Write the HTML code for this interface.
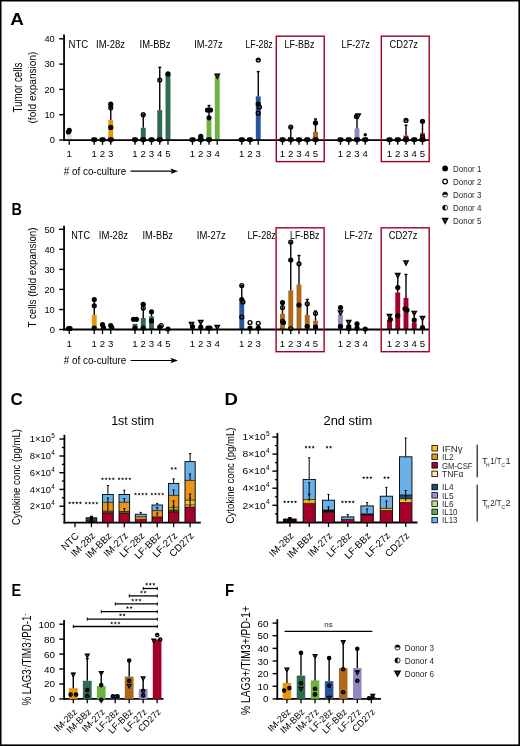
<!DOCTYPE html>
<html><head><meta charset="utf-8"><style>
html,body{margin:0;padding:0;background:#fff;}
svg{display:block;will-change:transform;font-family:"Liberation Sans", sans-serif;}

</style></head><body>
<svg width="520" height="746" viewBox="0 0 520 746">
<rect width="520" height="746" fill="#fff"/>
<rect x="0" y="0" width="520" height="1.5" fill="#000"/>
<rect x="0" y="0" width="1.5" height="746" fill="#000"/>
<rect x="518.4" y="0" width="1.6" height="746" fill="#000"/>
<rect x="0" y="744.4" width="520" height="1.6" fill="#000"/>
<text x="10.30" y="24.60" font-size="17" textLength="13.60" lengthAdjust="spacingAndGlyphs" font-weight="bold" fill="#000">A</text>
<text x="11.40" y="215.20" font-size="17" textLength="10.40" lengthAdjust="spacingAndGlyphs" font-weight="bold" fill="#000">B</text>
<text x="10.60" y="405.10" font-size="17" font-weight="bold" fill="#000">C</text>
<text x="224.50" y="405.00" font-size="17" textLength="13.40" lengthAdjust="spacingAndGlyphs" font-weight="bold" fill="#000">D</text>
<text x="11.40" y="596.00" font-size="17" textLength="9.60" lengthAdjust="spacingAndGlyphs" font-weight="bold" fill="#000">E</text>
<text x="224.90" y="596.00" font-size="17" textLength="9.10" lengthAdjust="spacingAndGlyphs" font-weight="bold" fill="#000">F</text>
<rect x="66.80" y="135.00" width="4.90" height="5.20" fill="#e2e2e2"/>
<circle cx="69.25" cy="130.40" r="2.6" fill="#000"/>
<circle cx="68.45" cy="132.00" r="2.6" fill="#000"/>
<circle cx="93.35" cy="139.70" r="2.40" fill="#000"/>
<circle cx="95.15" cy="139.70" r="2.40" fill="#000"/>
<path d="M91.85,140.00 L96.65,140.00 L94.25,143.20 Z" fill="#000"/>
<circle cx="101.60" cy="139.70" r="2.40" fill="#000"/>
<circle cx="103.40" cy="139.70" r="2.40" fill="#000"/>
<path d="M100.10,140.00 L104.90,140.00 L102.50,143.20 Z" fill="#000"/>
<rect x="108.30" y="120.10" width="4.90" height="20.10" fill="#ea950e"/>
<line x1="110.75" y1="120.10" x2="110.75" y2="104.00" stroke="#000" stroke-width="1.4"/>
<line x1="109.25" y1="104.00" x2="112.25" y2="104.00" stroke="#000" stroke-width="1.4"/>
<circle cx="110.75" cy="104.20" r="2.6" fill="#000"/>
<circle cx="110.75" cy="107.80" r="1.90" fill="none" stroke="#000" stroke-width="1.4"/>
<path d="M108.85,108.15 A1.90,1.90 0 0 1 112.65,108.15 Z" fill="#000"/>
<circle cx="110.75" cy="127.40" r="2.6" fill="#000"/>
<circle cx="109.85" cy="139.70" r="2.40" fill="#000"/>
<circle cx="111.65" cy="139.70" r="2.40" fill="#000"/>
<path d="M108.35,140.00 L113.15,140.00 L110.75,143.20 Z" fill="#000"/>
<circle cx="134.10" cy="139.70" r="2.40" fill="#000"/>
<circle cx="135.90" cy="139.70" r="2.40" fill="#000"/>
<path d="M132.60,140.00 L137.40,140.00 L135.00,143.20 Z" fill="#000"/>
<rect x="140.80" y="127.80" width="4.90" height="12.40" fill="#2f6b4f"/>
<line x1="143.25" y1="127.80" x2="143.25" y2="114.70" stroke="#000" stroke-width="1.4"/>
<line x1="141.75" y1="114.70" x2="144.75" y2="114.70" stroke="#000" stroke-width="1.4"/>
<circle cx="143.25" cy="114.70" r="1.90" fill="none" stroke="#000" stroke-width="1.4"/>
<circle cx="142.35" cy="139.70" r="2.40" fill="#000"/>
<circle cx="144.15" cy="139.70" r="2.40" fill="#000"/>
<path d="M140.85,140.00 L145.65,140.00 L143.25,143.20 Z" fill="#000"/>
<circle cx="150.60" cy="139.70" r="2.40" fill="#000"/>
<circle cx="152.40" cy="139.70" r="2.40" fill="#000"/>
<path d="M149.10,140.00 L153.90,140.00 L151.50,143.20 Z" fill="#000"/>
<rect x="157.30" y="110.10" width="4.90" height="30.10" fill="#2f6b4f"/>
<line x1="159.75" y1="110.10" x2="159.75" y2="67.40" stroke="#000" stroke-width="1.4"/>
<line x1="158.25" y1="67.40" x2="161.25" y2="67.40" stroke="#000" stroke-width="1.4"/>
<circle cx="159.75" cy="80.10" r="1.90" fill="none" stroke="#000" stroke-width="1.4"/>
<circle cx="158.85" cy="139.70" r="2.40" fill="#000"/>
<circle cx="160.65" cy="139.70" r="2.40" fill="#000"/>
<path d="M157.35,140.00 L162.15,140.00 L159.75,143.20 Z" fill="#000"/>
<rect x="165.55" y="73.90" width="4.90" height="66.30" fill="#2f6b4f"/>
<circle cx="168.00" cy="73.90" r="2.6" fill="#000"/>
<circle cx="191.60" cy="139.70" r="2.40" fill="#000"/>
<circle cx="193.40" cy="139.70" r="2.40" fill="#000"/>
<path d="M190.10,140.00 L194.90,140.00 L192.50,143.20 Z" fill="#000"/>
<circle cx="200.75" cy="136.30" r="2.6" fill="#000"/>
<circle cx="199.85" cy="139.70" r="2.40" fill="#000"/>
<circle cx="201.65" cy="139.70" r="2.40" fill="#000"/>
<path d="M198.35,140.00 L203.15,140.00 L200.75,143.20 Z" fill="#000"/>
<rect x="206.55" y="120.10" width="4.90" height="20.10" fill="#6cb142"/>
<line x1="209.00" y1="120.10" x2="209.00" y2="105.50" stroke="#000" stroke-width="1.4"/>
<line x1="207.50" y1="105.50" x2="210.50" y2="105.50" stroke="#000" stroke-width="1.4"/>
<circle cx="207.50" cy="110.10" r="2.6" fill="#000"/>
<circle cx="210.50" cy="110.10" r="2.6" fill="#000"/>
<circle cx="209.00" cy="117.80" r="2.6" fill="#000"/>
<circle cx="208.10" cy="139.70" r="2.40" fill="#000"/>
<circle cx="209.90" cy="139.70" r="2.40" fill="#000"/>
<path d="M206.60,140.00 L211.40,140.00 L209.00,143.20 Z" fill="#000"/>
<rect x="214.80" y="76.20" width="4.90" height="64.00" fill="#6cb142"/>
<path d="M213.95,73.56 L220.55,73.56 L217.25,79.67 Z" fill="#000"/>
<circle cx="217.25" cy="75.70" r="0.66" fill="#777"/>
<circle cx="240.85" cy="139.70" r="2.40" fill="#000"/>
<circle cx="242.65" cy="139.70" r="2.40" fill="#000"/>
<path d="M239.35,140.00 L244.15,140.00 L241.75,143.20 Z" fill="#000"/>
<circle cx="249.10" cy="139.70" r="2.40" fill="#000"/>
<circle cx="250.90" cy="139.70" r="2.40" fill="#000"/>
<path d="M247.60,140.00 L252.40,140.00 L250.00,143.20 Z" fill="#000"/>
<rect x="255.80" y="96.30" width="4.90" height="43.90" fill="#2a549c"/>
<line x1="258.25" y1="96.30" x2="258.25" y2="71.60" stroke="#000" stroke-width="1.4"/>
<line x1="256.75" y1="71.60" x2="259.75" y2="71.60" stroke="#000" stroke-width="1.4"/>
<circle cx="258.25" cy="60.00" r="1.90" fill="none" stroke="#000" stroke-width="1.4"/>
<path d="M256.35,60.35 A1.90,1.90 0 0 1 260.15,60.35 Z" fill="#000"/>
<circle cx="258.25" cy="104.00" r="2.6" fill="#000"/>
<circle cx="259.45" cy="107.00" r="1.90" fill="none" stroke="#000" stroke-width="1.4"/>
<circle cx="258.25" cy="113.20" r="1.90" fill="none" stroke="#000" stroke-width="1.4"/>
<circle cx="281.60" cy="139.70" r="2.40" fill="#000"/>
<circle cx="283.40" cy="139.70" r="2.40" fill="#000"/>
<path d="M280.10,140.00 L284.90,140.00 L282.50,143.20 Z" fill="#000"/>
<rect x="288.30" y="137.00" width="4.90" height="3.20" fill="#ad6a1c"/>
<line x1="290.75" y1="137.00" x2="290.75" y2="127.00" stroke="#000" stroke-width="1.4"/>
<line x1="289.25" y1="127.00" x2="292.25" y2="127.00" stroke="#000" stroke-width="1.4"/>
<circle cx="290.75" cy="127.00" r="1.90" fill="none" stroke="#000" stroke-width="1.4"/>
<circle cx="289.85" cy="139.70" r="2.40" fill="#000"/>
<circle cx="291.65" cy="139.70" r="2.40" fill="#000"/>
<path d="M288.35,140.00 L293.15,140.00 L290.75,143.20 Z" fill="#000"/>
<circle cx="298.10" cy="139.70" r="2.40" fill="#000"/>
<circle cx="299.90" cy="139.70" r="2.40" fill="#000"/>
<path d="M296.60,140.00 L301.40,140.00 L299.00,143.20 Z" fill="#000"/>
<circle cx="306.35" cy="139.70" r="2.40" fill="#000"/>
<circle cx="308.15" cy="139.70" r="2.40" fill="#000"/>
<path d="M304.85,140.00 L309.65,140.00 L307.25,143.20 Z" fill="#000"/>
<rect x="313.05" y="131.70" width="4.90" height="8.50" fill="#ad6a1c"/>
<line x1="315.50" y1="131.70" x2="315.50" y2="119.00" stroke="#000" stroke-width="1.4"/>
<line x1="314.00" y1="119.00" x2="317.00" y2="119.00" stroke="#000" stroke-width="1.4"/>
<circle cx="315.50" cy="122.90" r="2.6" fill="#000"/>
<circle cx="314.60" cy="139.70" r="2.40" fill="#000"/>
<circle cx="316.40" cy="139.70" r="2.40" fill="#000"/>
<path d="M313.10,140.00 L317.90,140.00 L315.50,143.20 Z" fill="#000"/>
<circle cx="339.60" cy="139.70" r="2.40" fill="#000"/>
<circle cx="341.40" cy="139.70" r="2.40" fill="#000"/>
<path d="M338.10,140.00 L342.90,140.00 L340.50,143.20 Z" fill="#000"/>
<circle cx="347.85" cy="139.70" r="2.40" fill="#000"/>
<circle cx="349.65" cy="139.70" r="2.40" fill="#000"/>
<path d="M346.35,140.00 L351.15,140.00 L348.75,143.20 Z" fill="#000"/>
<rect x="354.55" y="128.40" width="4.90" height="11.80" fill="#8f88c5"/>
<line x1="357.00" y1="128.40" x2="357.00" y2="117.00" stroke="#000" stroke-width="1.4"/>
<line x1="355.50" y1="117.00" x2="358.50" y2="117.00" stroke="#000" stroke-width="1.4"/>
<circle cx="356.40" cy="116.60" r="1.90" fill="none" stroke="#000" stroke-width="1.4"/>
<path d="M354.50,116.95 A1.90,1.90 0 0 1 358.30,116.95 Z" fill="#000"/>
<path d="M354.90,113.36 L361.50,113.36 L358.20,119.47 Z" fill="#000"/>
<circle cx="358.20" cy="115.50" r="0.66" fill="#777"/>
<circle cx="356.10" cy="139.70" r="2.40" fill="#000"/>
<circle cx="357.90" cy="139.70" r="2.40" fill="#000"/>
<path d="M354.60,140.00 L359.40,140.00 L357.00,143.20 Z" fill="#000"/>
<rect x="362.80" y="137.60" width="4.90" height="2.60" fill="#8f88c5"/>
<circle cx="365.25" cy="134.70" r="1.7" fill="#000"/>
<circle cx="364.35" cy="139.70" r="2.40" fill="#000"/>
<circle cx="366.15" cy="139.70" r="2.40" fill="#000"/>
<path d="M362.85,140.00 L367.65,140.00 L365.25,143.20 Z" fill="#000"/>
<circle cx="388.60" cy="139.70" r="2.40" fill="#000"/>
<circle cx="390.40" cy="139.70" r="2.40" fill="#000"/>
<path d="M387.10,140.00 L391.90,140.00 L389.50,143.20 Z" fill="#000"/>
<circle cx="396.85" cy="139.70" r="2.40" fill="#000"/>
<circle cx="398.65" cy="139.70" r="2.40" fill="#000"/>
<path d="M395.35,140.00 L400.15,140.00 L397.75,143.20 Z" fill="#000"/>
<rect x="403.55" y="135.60" width="4.90" height="4.60" fill="#a3002c"/>
<line x1="406.00" y1="135.60" x2="406.00" y2="125.20" stroke="#000" stroke-width="1.4"/>
<line x1="404.50" y1="125.20" x2="407.50" y2="125.20" stroke="#000" stroke-width="1.4"/>
<circle cx="406.00" cy="120.40" r="1.90" fill="none" stroke="#000" stroke-width="1.4"/>
<path d="M404.10,120.75 A1.90,1.90 0 0 1 407.90,120.75 Z" fill="#000"/>
<circle cx="405.10" cy="139.70" r="2.40" fill="#000"/>
<circle cx="406.90" cy="139.70" r="2.40" fill="#000"/>
<path d="M403.60,140.00 L408.40,140.00 L406.00,143.20 Z" fill="#000"/>
<circle cx="413.35" cy="139.70" r="2.40" fill="#000"/>
<circle cx="415.15" cy="139.70" r="2.40" fill="#000"/>
<path d="M411.85,140.00 L416.65,140.00 L414.25,143.20 Z" fill="#000"/>
<rect x="420.05" y="133.20" width="4.90" height="7.00" fill="#a3002c"/>
<line x1="422.50" y1="133.20" x2="422.50" y2="121.30" stroke="#000" stroke-width="1.4"/>
<line x1="421.00" y1="121.30" x2="424.00" y2="121.30" stroke="#000" stroke-width="1.4"/>
<circle cx="422.50" cy="121.30" r="2.6" fill="#000"/>
<circle cx="422.50" cy="137.00" r="1.90" fill="none" stroke="#000" stroke-width="1.4"/>
<circle cx="421.60" cy="139.70" r="2.40" fill="#000"/>
<circle cx="423.40" cy="139.70" r="2.40" fill="#000"/>
<path d="M420.10,140.00 L424.90,140.00 L422.50,143.20 Z" fill="#000"/>
<line x1="64.05" y1="34.60" x2="64.05" y2="141.10" stroke="#000" stroke-width="1.8"/>
<line x1="63.15" y1="140.20" x2="429.00" y2="140.20" stroke="#000" stroke-width="1.8"/>
<line x1="59.20" y1="38.80" x2="64.00" y2="38.80" stroke="#000" stroke-width="1.4"/>
<text x="54.80" y="42.10" font-size="9.3" text-anchor="end" fill="#000">40</text>
<line x1="59.20" y1="64.10" x2="64.00" y2="64.10" stroke="#000" stroke-width="1.4"/>
<text x="54.80" y="67.40" font-size="9.3" text-anchor="end" fill="#000">30</text>
<line x1="59.20" y1="89.40" x2="64.00" y2="89.40" stroke="#000" stroke-width="1.4"/>
<text x="54.80" y="92.70" font-size="9.3" text-anchor="end" fill="#000">20</text>
<line x1="59.20" y1="114.70" x2="64.00" y2="114.70" stroke="#000" stroke-width="1.4"/>
<text x="54.80" y="118.00" font-size="9.3" text-anchor="end" fill="#000">10</text>
<line x1="59.20" y1="140.00" x2="64.00" y2="140.00" stroke="#000" stroke-width="1.4"/>
<text x="54.80" y="143.30" font-size="9.3" text-anchor="end" fill="#000">0</text>
<line x1="69.25" y1="140.20" x2="69.25" y2="144.80" stroke="#000" stroke-width="1.3"/>
<text x="69.25" y="157.20" font-size="9.6" text-anchor="middle" fill="#000">1</text>
<line x1="94.25" y1="140.20" x2="94.25" y2="144.80" stroke="#000" stroke-width="1.3"/>
<text x="94.25" y="157.20" font-size="9.6" text-anchor="middle" fill="#000">1</text>
<line x1="102.50" y1="140.20" x2="102.50" y2="144.80" stroke="#000" stroke-width="1.3"/>
<text x="102.50" y="157.20" font-size="9.6" text-anchor="middle" fill="#000">2</text>
<line x1="110.75" y1="140.20" x2="110.75" y2="144.80" stroke="#000" stroke-width="1.3"/>
<text x="110.75" y="157.20" font-size="9.6" text-anchor="middle" fill="#000">3</text>
<line x1="135.00" y1="140.20" x2="135.00" y2="144.80" stroke="#000" stroke-width="1.3"/>
<text x="135.00" y="157.20" font-size="9.6" text-anchor="middle" fill="#000">1</text>
<line x1="143.25" y1="140.20" x2="143.25" y2="144.80" stroke="#000" stroke-width="1.3"/>
<text x="143.25" y="157.20" font-size="9.6" text-anchor="middle" fill="#000">2</text>
<line x1="151.50" y1="140.20" x2="151.50" y2="144.80" stroke="#000" stroke-width="1.3"/>
<text x="151.50" y="157.20" font-size="9.6" text-anchor="middle" fill="#000">3</text>
<line x1="159.75" y1="140.20" x2="159.75" y2="144.80" stroke="#000" stroke-width="1.3"/>
<text x="159.75" y="157.20" font-size="9.6" text-anchor="middle" fill="#000">4</text>
<line x1="168.00" y1="140.20" x2="168.00" y2="144.80" stroke="#000" stroke-width="1.3"/>
<text x="168.00" y="157.20" font-size="9.6" text-anchor="middle" fill="#000">5</text>
<line x1="192.50" y1="140.20" x2="192.50" y2="144.80" stroke="#000" stroke-width="1.3"/>
<text x="192.50" y="157.20" font-size="9.6" text-anchor="middle" fill="#000">1</text>
<line x1="200.75" y1="140.20" x2="200.75" y2="144.80" stroke="#000" stroke-width="1.3"/>
<text x="200.75" y="157.20" font-size="9.6" text-anchor="middle" fill="#000">2</text>
<line x1="209.00" y1="140.20" x2="209.00" y2="144.80" stroke="#000" stroke-width="1.3"/>
<text x="209.00" y="157.20" font-size="9.6" text-anchor="middle" fill="#000">3</text>
<line x1="217.25" y1="140.20" x2="217.25" y2="144.80" stroke="#000" stroke-width="1.3"/>
<text x="217.25" y="157.20" font-size="9.6" text-anchor="middle" fill="#000">4</text>
<line x1="241.75" y1="140.20" x2="241.75" y2="144.80" stroke="#000" stroke-width="1.3"/>
<text x="241.75" y="157.20" font-size="9.6" text-anchor="middle" fill="#000">1</text>
<line x1="250.00" y1="140.20" x2="250.00" y2="144.80" stroke="#000" stroke-width="1.3"/>
<text x="250.00" y="157.20" font-size="9.6" text-anchor="middle" fill="#000">2</text>
<line x1="258.25" y1="140.20" x2="258.25" y2="144.80" stroke="#000" stroke-width="1.3"/>
<text x="258.25" y="157.20" font-size="9.6" text-anchor="middle" fill="#000">3</text>
<line x1="282.50" y1="140.20" x2="282.50" y2="144.80" stroke="#000" stroke-width="1.3"/>
<text x="282.50" y="157.20" font-size="9.6" text-anchor="middle" fill="#000">1</text>
<line x1="290.75" y1="140.20" x2="290.75" y2="144.80" stroke="#000" stroke-width="1.3"/>
<text x="290.75" y="157.20" font-size="9.6" text-anchor="middle" fill="#000">2</text>
<line x1="299.00" y1="140.20" x2="299.00" y2="144.80" stroke="#000" stroke-width="1.3"/>
<text x="299.00" y="157.20" font-size="9.6" text-anchor="middle" fill="#000">3</text>
<line x1="307.25" y1="140.20" x2="307.25" y2="144.80" stroke="#000" stroke-width="1.3"/>
<text x="307.25" y="157.20" font-size="9.6" text-anchor="middle" fill="#000">4</text>
<line x1="315.50" y1="140.20" x2="315.50" y2="144.80" stroke="#000" stroke-width="1.3"/>
<text x="315.50" y="157.20" font-size="9.6" text-anchor="middle" fill="#000">5</text>
<line x1="340.50" y1="140.20" x2="340.50" y2="144.80" stroke="#000" stroke-width="1.3"/>
<text x="340.50" y="157.20" font-size="9.6" text-anchor="middle" fill="#000">1</text>
<line x1="348.75" y1="140.20" x2="348.75" y2="144.80" stroke="#000" stroke-width="1.3"/>
<text x="348.75" y="157.20" font-size="9.6" text-anchor="middle" fill="#000">2</text>
<line x1="357.00" y1="140.20" x2="357.00" y2="144.80" stroke="#000" stroke-width="1.3"/>
<text x="357.00" y="157.20" font-size="9.6" text-anchor="middle" fill="#000">3</text>
<line x1="365.25" y1="140.20" x2="365.25" y2="144.80" stroke="#000" stroke-width="1.3"/>
<text x="365.25" y="157.20" font-size="9.6" text-anchor="middle" fill="#000">4</text>
<line x1="389.50" y1="140.20" x2="389.50" y2="144.80" stroke="#000" stroke-width="1.3"/>
<text x="389.50" y="157.20" font-size="9.6" text-anchor="middle" fill="#000">1</text>
<line x1="397.75" y1="140.20" x2="397.75" y2="144.80" stroke="#000" stroke-width="1.3"/>
<text x="397.75" y="157.20" font-size="9.6" text-anchor="middle" fill="#000">2</text>
<line x1="406.00" y1="140.20" x2="406.00" y2="144.80" stroke="#000" stroke-width="1.3"/>
<text x="406.00" y="157.20" font-size="9.6" text-anchor="middle" fill="#000">3</text>
<line x1="414.25" y1="140.20" x2="414.25" y2="144.80" stroke="#000" stroke-width="1.3"/>
<text x="414.25" y="157.20" font-size="9.6" text-anchor="middle" fill="#000">4</text>
<line x1="422.50" y1="140.20" x2="422.50" y2="144.80" stroke="#000" stroke-width="1.3"/>
<text x="422.50" y="157.20" font-size="9.6" text-anchor="middle" fill="#000">5</text>
<text x="68.50" y="47.80" font-size="10.2" textLength="19.70" lengthAdjust="spacingAndGlyphs" fill="#000">NTC</text>
<text x="96.00" y="47.80" font-size="10.2" textLength="29.00" lengthAdjust="spacingAndGlyphs" fill="#000">IM-28z</text>
<text x="139.60" y="47.80" font-size="10.2" textLength="30.90" lengthAdjust="spacingAndGlyphs" fill="#000">IM-BBz</text>
<text x="194.20" y="47.80" font-size="10.2" textLength="28.50" lengthAdjust="spacingAndGlyphs" fill="#000">IM-27z</text>
<text x="245.50" y="47.80" font-size="10.2" textLength="27.20" lengthAdjust="spacingAndGlyphs" fill="#000">LF-28z</text>
<text x="284.60" y="47.80" font-size="10.2" textLength="29.80" lengthAdjust="spacingAndGlyphs" fill="#000">LF-BBz</text>
<text x="341.60" y="47.80" font-size="10.2" textLength="28.20" lengthAdjust="spacingAndGlyphs" fill="#000">LF-27z</text>
<text x="389.50" y="47.80" font-size="10.2" textLength="28.50" lengthAdjust="spacingAndGlyphs" fill="#000">CD27z</text>
<rect x="276.30" y="36.20" width="47.90" height="125.40" fill="none" stroke="#a3001f" stroke-width="1.4"/>
<rect x="381.30" y="36.20" width="47.90" height="125.40" fill="none" stroke="#a3001f" stroke-width="1.4"/>
<text x="63.80" y="174.90" font-size="11.5" textLength="62.40" lengthAdjust="spacingAndGlyphs" fill="#000"># of co-culture</text>
<line x1="130.50" y1="171.20" x2="172.00" y2="171.20" stroke="#000" stroke-width="1.2"/>
<path d="M178,171.20 L170.5,168.50 L172,171.20 L170.5,173.90 Z" fill="#000"/>
<text x="0" y="0" font-size="12" text-anchor="middle" textLength="50" lengthAdjust="spacingAndGlyphs" transform="translate(21.60 87.50) rotate(-90)">Tumor cells</text>
<text x="0" y="0" font-size="11.7" text-anchor="middle" textLength="72" lengthAdjust="spacingAndGlyphs" transform="translate(35.80 87.50) rotate(-90)">(fold expansion)</text>
<circle cx="68.45" cy="328.50" r="2.6" fill="#000"/>
<circle cx="70.05" cy="328.50" r="2.6" fill="#000"/>
<rect x="91.80" y="315.00" width="4.90" height="14.50" fill="#ea950e"/>
<line x1="94.25" y1="315.00" x2="94.25" y2="299.50" stroke="#000" stroke-width="1.4"/>
<line x1="92.75" y1="299.50" x2="95.75" y2="299.50" stroke="#000" stroke-width="1.4"/>
<circle cx="94.25" cy="299.50" r="2.6" fill="#000"/>
<circle cx="94.25" cy="305.80" r="1.90" fill="none" stroke="#000" stroke-width="1.4"/>
<path d="M92.35,306.15 A1.90,1.90 0 0 1 96.15,306.15 Z" fill="#000"/>
<circle cx="94.25" cy="328.00" r="2.6" fill="#000"/>
<circle cx="102.50" cy="324.50" r="2.6" fill="#000"/>
<circle cx="103.50" cy="327.50" r="2.6" fill="#000"/>
<circle cx="110.75" cy="325.50" r="2.6" fill="#000"/>
<circle cx="111.75" cy="327.50" r="2.6" fill="#000"/>
<rect x="132.55" y="323.80" width="4.90" height="5.70" fill="#2f6b4f"/>
<circle cx="133.50" cy="319.30" r="2.6" fill="#000"/>
<circle cx="136.50" cy="319.30" r="2.6" fill="#000"/>
<circle cx="135.00" cy="328.00" r="2.6" fill="#000"/>
<rect x="140.80" y="318.00" width="4.90" height="11.50" fill="#2f6b4f"/>
<line x1="143.25" y1="318.00" x2="143.25" y2="304.30" stroke="#000" stroke-width="1.4"/>
<line x1="141.75" y1="304.30" x2="144.75" y2="304.30" stroke="#000" stroke-width="1.4"/>
<circle cx="143.25" cy="304.30" r="2.6" fill="#000"/>
<circle cx="143.25" cy="308.00" r="1.90" fill="none" stroke="#000" stroke-width="1.4"/>
<circle cx="143.25" cy="328.00" r="2.6" fill="#000"/>
<rect x="149.05" y="316.30" width="4.90" height="13.20" fill="#2f6b4f"/>
<line x1="151.50" y1="316.30" x2="151.50" y2="311.00" stroke="#000" stroke-width="1.4"/>
<line x1="150.00" y1="311.00" x2="153.00" y2="311.00" stroke="#000" stroke-width="1.4"/>
<circle cx="151.50" cy="311.80" r="2.6" fill="#000"/>
<circle cx="151.50" cy="320.80" r="2.6" fill="#000"/>
<circle cx="159.75" cy="327.00" r="2.6" fill="#000"/>
<circle cx="161.25" cy="325.50" r="1.90" fill="none" stroke="#000" stroke-width="1.4"/>
<circle cx="168.00" cy="329.00" r="2.6" fill="#000"/>
<circle cx="192.50" cy="326.50" r="2.6" fill="#000"/>
<path d="M188.20,321.86 L194.80,321.86 L191.50,327.97 Z" fill="#000"/>
<circle cx="191.50" cy="324.00" r="0.66" fill="#777"/>
<path d="M197.45,319.86 L204.05,319.86 L200.75,325.97 Z" fill="#000"/>
<circle cx="200.75" cy="322.00" r="0.66" fill="#777"/>
<circle cx="200.75" cy="327.00" r="2.6" fill="#000"/>
<circle cx="208.00" cy="328.00" r="2.6" fill="#000"/>
<circle cx="210.00" cy="328.00" r="2.6" fill="#000"/>
<path d="M213.95,324.86 L220.55,324.86 L217.25,330.97 Z" fill="#000"/>
<circle cx="217.25" cy="327.00" r="0.66" fill="#777"/>
<rect x="239.30" y="301.30" width="4.90" height="28.20" fill="#2a549c"/>
<line x1="241.75" y1="301.30" x2="241.75" y2="285.50" stroke="#000" stroke-width="1.4"/>
<line x1="240.25" y1="285.50" x2="243.25" y2="285.50" stroke="#000" stroke-width="1.4"/>
<circle cx="241.75" cy="285.50" r="1.90" fill="none" stroke="#000" stroke-width="1.4"/>
<circle cx="241.75" cy="299.50" r="2.6" fill="#000"/>
<circle cx="242.95" cy="302.00" r="1.90" fill="none" stroke="#000" stroke-width="1.4"/>
<circle cx="241.75" cy="317.00" r="1.90" fill="none" stroke="#000" stroke-width="1.4"/>
<circle cx="250.00" cy="322.50" r="1.90" fill="none" stroke="#000" stroke-width="1.4"/>
<circle cx="250.00" cy="328.00" r="2.6" fill="#000"/>
<circle cx="258.25" cy="323.30" r="1.90" fill="none" stroke="#000" stroke-width="1.4"/>
<circle cx="258.25" cy="328.00" r="2.6" fill="#000"/>
<rect x="280.05" y="313.80" width="4.90" height="15.70" fill="#ad6a1c"/>
<line x1="282.50" y1="313.80" x2="282.50" y2="302.50" stroke="#000" stroke-width="1.4"/>
<line x1="281.00" y1="302.50" x2="284.00" y2="302.50" stroke="#000" stroke-width="1.4"/>
<circle cx="282.50" cy="302.50" r="2.6" fill="#000"/>
<circle cx="282.50" cy="307.50" r="1.90" fill="none" stroke="#000" stroke-width="1.4"/>
<circle cx="282.50" cy="321.30" r="1.90" fill="none" stroke="#000" stroke-width="1.4"/>
<circle cx="283.50" cy="322.50" r="2.6" fill="#000"/>
<rect x="288.30" y="290.50" width="4.90" height="39.00" fill="#ad6a1c"/>
<line x1="290.75" y1="290.50" x2="290.75" y2="242.00" stroke="#000" stroke-width="1.4"/>
<line x1="289.25" y1="242.00" x2="292.25" y2="242.00" stroke="#000" stroke-width="1.4"/>
<circle cx="290.75" cy="242.00" r="1.90" fill="none" stroke="#000" stroke-width="1.4"/>
<circle cx="290.75" cy="260.00" r="2.6" fill="#000"/>
<circle cx="290.75" cy="328.50" r="1.90" fill="none" stroke="#000" stroke-width="1.4"/>
<rect x="296.55" y="284.50" width="4.90" height="45.00" fill="#ad6a1c"/>
<line x1="299.00" y1="284.50" x2="299.00" y2="255.50" stroke="#000" stroke-width="1.4"/>
<line x1="297.50" y1="255.50" x2="300.50" y2="255.50" stroke="#000" stroke-width="1.4"/>
<circle cx="299.00" cy="263.80" r="1.90" fill="none" stroke="#000" stroke-width="1.4"/>
<circle cx="299.00" cy="305.00" r="2.6" fill="#000"/>
<rect x="304.80" y="315.00" width="4.90" height="14.50" fill="#ad6a1c"/>
<line x1="307.25" y1="315.00" x2="307.25" y2="299.50" stroke="#000" stroke-width="1.4"/>
<line x1="305.75" y1="299.50" x2="308.75" y2="299.50" stroke="#000" stroke-width="1.4"/>
<circle cx="307.25" cy="303.80" r="1.90" fill="none" stroke="#000" stroke-width="1.4"/>
<circle cx="307.25" cy="326.30" r="2.6" fill="#000"/>
<rect x="313.05" y="320.80" width="4.90" height="8.70" fill="#ad6a1c"/>
<line x1="315.50" y1="320.80" x2="315.50" y2="311.00" stroke="#000" stroke-width="1.4"/>
<line x1="314.00" y1="311.00" x2="317.00" y2="311.00" stroke="#000" stroke-width="1.4"/>
<circle cx="315.50" cy="313.30" r="1.90" fill="none" stroke="#000" stroke-width="1.4"/>
<circle cx="315.50" cy="327.00" r="2.6" fill="#000"/>
<rect x="338.05" y="314.50" width="4.90" height="15.00" fill="#8f88c5"/>
<circle cx="340.50" cy="307.50" r="2.6" fill="#000"/>
<path d="M337.20,310.36 L343.80,310.36 L340.50,316.47 Z" fill="#000"/>
<circle cx="340.50" cy="312.50" r="0.66" fill="#777"/>
<circle cx="340.50" cy="326.30" r="2.6" fill="#000"/>
<path d="M345.45,319.86 L352.05,319.86 L348.75,325.97 Z" fill="#000"/>
<circle cx="348.75" cy="322.00" r="0.66" fill="#777"/>
<circle cx="348.75" cy="326.50" r="2.6" fill="#000"/>
<circle cx="348.75" cy="328.50" r="2.6" fill="#000"/>
<circle cx="357.00" cy="323.80" r="2.6" fill="#000"/>
<circle cx="357.00" cy="328.00" r="2.6" fill="#000"/>
<circle cx="365.25" cy="329.00" r="2.6" fill="#000"/>
<rect x="387.05" y="320.00" width="4.90" height="9.50" fill="#a3002c"/>
<path d="M386.20,313.66 L392.80,313.66 L389.50,319.77 Z" fill="#000"/>
<circle cx="389.50" cy="315.80" r="0.66" fill="#777"/>
<circle cx="390.30" cy="319.50" r="2.6" fill="#000"/>
<rect x="395.30" y="292.50" width="4.90" height="37.00" fill="#a3002c"/>
<line x1="397.75" y1="292.50" x2="397.75" y2="275.50" stroke="#000" stroke-width="1.4"/>
<line x1="396.25" y1="275.50" x2="399.25" y2="275.50" stroke="#000" stroke-width="1.4"/>
<path d="M394.45,272.86 L401.05,272.86 L397.75,278.97 Z" fill="#000"/>
<circle cx="397.75" cy="275.00" r="0.66" fill="#777"/>
<circle cx="397.75" cy="287.50" r="2.6" fill="#000"/>
<circle cx="397.75" cy="315.80" r="2.6" fill="#000"/>
<rect x="403.55" y="298.00" width="4.90" height="31.50" fill="#a3002c"/>
<line x1="406.00" y1="298.00" x2="406.00" y2="274.50" stroke="#000" stroke-width="1.4"/>
<line x1="404.50" y1="274.50" x2="407.50" y2="274.50" stroke="#000" stroke-width="1.4"/>
<path d="M402.70,260.36 L409.30,260.36 L406.00,266.47 Z" fill="#000"/>
<circle cx="406.00" cy="262.50" r="0.66" fill="#777"/>
<circle cx="405.00" cy="308.80" r="2.6" fill="#000"/>
<circle cx="407.00" cy="310.00" r="2.6" fill="#000"/>
<rect x="411.80" y="322.50" width="4.90" height="7.00" fill="#a3002c"/>
<line x1="414.25" y1="322.50" x2="414.25" y2="313.30" stroke="#000" stroke-width="1.4"/>
<line x1="412.75" y1="313.30" x2="415.75" y2="313.30" stroke="#000" stroke-width="1.4"/>
<path d="M410.95,310.66 L417.55,310.66 L414.25,316.77 Z" fill="#000"/>
<circle cx="414.25" cy="312.80" r="0.66" fill="#777"/>
<circle cx="414.25" cy="320.00" r="2.6" fill="#000"/>
<rect x="420.05" y="327.50" width="4.90" height="2.00" fill="#a3002c"/>
<line x1="422.50" y1="327.50" x2="422.50" y2="318.30" stroke="#000" stroke-width="1.4"/>
<line x1="421.00" y1="318.30" x2="424.00" y2="318.30" stroke="#000" stroke-width="1.4"/>
<path d="M419.20,315.66 L425.80,315.66 L422.50,321.77 Z" fill="#000"/>
<circle cx="422.50" cy="317.80" r="0.66" fill="#777"/>
<circle cx="422.50" cy="327.50" r="2.6" fill="#000"/>
<line x1="64.05" y1="225.80" x2="64.05" y2="330.40" stroke="#000" stroke-width="1.8"/>
<line x1="63.15" y1="329.50" x2="429.00" y2="329.50" stroke="#000" stroke-width="1.8"/>
<line x1="59.20" y1="229.30" x2="64.00" y2="229.30" stroke="#000" stroke-width="1.4"/>
<text x="54.80" y="232.60" font-size="9.3" text-anchor="end" fill="#000">50</text>
<line x1="59.20" y1="249.30" x2="64.00" y2="249.30" stroke="#000" stroke-width="1.4"/>
<text x="54.80" y="252.60" font-size="9.3" text-anchor="end" fill="#000">40</text>
<line x1="59.20" y1="269.40" x2="64.00" y2="269.40" stroke="#000" stroke-width="1.4"/>
<text x="54.80" y="272.70" font-size="9.3" text-anchor="end" fill="#000">30</text>
<line x1="59.20" y1="289.40" x2="64.00" y2="289.40" stroke="#000" stroke-width="1.4"/>
<text x="54.80" y="292.70" font-size="9.3" text-anchor="end" fill="#000">20</text>
<line x1="59.20" y1="309.50" x2="64.00" y2="309.50" stroke="#000" stroke-width="1.4"/>
<text x="54.80" y="312.80" font-size="9.3" text-anchor="end" fill="#000">10</text>
<line x1="59.20" y1="329.50" x2="64.00" y2="329.50" stroke="#000" stroke-width="1.4"/>
<text x="54.80" y="332.80" font-size="9.3" text-anchor="end" fill="#000">0</text>
<line x1="69.25" y1="329.50" x2="69.25" y2="334.10" stroke="#000" stroke-width="1.3"/>
<text x="69.25" y="346.50" font-size="9.6" text-anchor="middle" fill="#000">1</text>
<line x1="94.25" y1="329.50" x2="94.25" y2="334.10" stroke="#000" stroke-width="1.3"/>
<text x="94.25" y="346.50" font-size="9.6" text-anchor="middle" fill="#000">1</text>
<line x1="102.50" y1="329.50" x2="102.50" y2="334.10" stroke="#000" stroke-width="1.3"/>
<text x="102.50" y="346.50" font-size="9.6" text-anchor="middle" fill="#000">2</text>
<line x1="110.75" y1="329.50" x2="110.75" y2="334.10" stroke="#000" stroke-width="1.3"/>
<text x="110.75" y="346.50" font-size="9.6" text-anchor="middle" fill="#000">3</text>
<line x1="135.00" y1="329.50" x2="135.00" y2="334.10" stroke="#000" stroke-width="1.3"/>
<text x="135.00" y="346.50" font-size="9.6" text-anchor="middle" fill="#000">1</text>
<line x1="143.25" y1="329.50" x2="143.25" y2="334.10" stroke="#000" stroke-width="1.3"/>
<text x="143.25" y="346.50" font-size="9.6" text-anchor="middle" fill="#000">2</text>
<line x1="151.50" y1="329.50" x2="151.50" y2="334.10" stroke="#000" stroke-width="1.3"/>
<text x="151.50" y="346.50" font-size="9.6" text-anchor="middle" fill="#000">3</text>
<line x1="159.75" y1="329.50" x2="159.75" y2="334.10" stroke="#000" stroke-width="1.3"/>
<text x="159.75" y="346.50" font-size="9.6" text-anchor="middle" fill="#000">4</text>
<line x1="168.00" y1="329.50" x2="168.00" y2="334.10" stroke="#000" stroke-width="1.3"/>
<text x="168.00" y="346.50" font-size="9.6" text-anchor="middle" fill="#000">5</text>
<line x1="192.50" y1="329.50" x2="192.50" y2="334.10" stroke="#000" stroke-width="1.3"/>
<text x="192.50" y="346.50" font-size="9.6" text-anchor="middle" fill="#000">1</text>
<line x1="200.75" y1="329.50" x2="200.75" y2="334.10" stroke="#000" stroke-width="1.3"/>
<text x="200.75" y="346.50" font-size="9.6" text-anchor="middle" fill="#000">2</text>
<line x1="209.00" y1="329.50" x2="209.00" y2="334.10" stroke="#000" stroke-width="1.3"/>
<text x="209.00" y="346.50" font-size="9.6" text-anchor="middle" fill="#000">3</text>
<line x1="217.25" y1="329.50" x2="217.25" y2="334.10" stroke="#000" stroke-width="1.3"/>
<text x="217.25" y="346.50" font-size="9.6" text-anchor="middle" fill="#000">4</text>
<line x1="241.75" y1="329.50" x2="241.75" y2="334.10" stroke="#000" stroke-width="1.3"/>
<text x="241.75" y="346.50" font-size="9.6" text-anchor="middle" fill="#000">1</text>
<line x1="250.00" y1="329.50" x2="250.00" y2="334.10" stroke="#000" stroke-width="1.3"/>
<text x="250.00" y="346.50" font-size="9.6" text-anchor="middle" fill="#000">2</text>
<line x1="258.25" y1="329.50" x2="258.25" y2="334.10" stroke="#000" stroke-width="1.3"/>
<text x="258.25" y="346.50" font-size="9.6" text-anchor="middle" fill="#000">3</text>
<line x1="282.50" y1="329.50" x2="282.50" y2="334.10" stroke="#000" stroke-width="1.3"/>
<text x="282.50" y="346.50" font-size="9.6" text-anchor="middle" fill="#000">1</text>
<line x1="290.75" y1="329.50" x2="290.75" y2="334.10" stroke="#000" stroke-width="1.3"/>
<text x="290.75" y="346.50" font-size="9.6" text-anchor="middle" fill="#000">2</text>
<line x1="299.00" y1="329.50" x2="299.00" y2="334.10" stroke="#000" stroke-width="1.3"/>
<text x="299.00" y="346.50" font-size="9.6" text-anchor="middle" fill="#000">3</text>
<line x1="307.25" y1="329.50" x2="307.25" y2="334.10" stroke="#000" stroke-width="1.3"/>
<text x="307.25" y="346.50" font-size="9.6" text-anchor="middle" fill="#000">4</text>
<line x1="315.50" y1="329.50" x2="315.50" y2="334.10" stroke="#000" stroke-width="1.3"/>
<text x="315.50" y="346.50" font-size="9.6" text-anchor="middle" fill="#000">5</text>
<line x1="340.50" y1="329.50" x2="340.50" y2="334.10" stroke="#000" stroke-width="1.3"/>
<text x="340.50" y="346.50" font-size="9.6" text-anchor="middle" fill="#000">1</text>
<line x1="348.75" y1="329.50" x2="348.75" y2="334.10" stroke="#000" stroke-width="1.3"/>
<text x="348.75" y="346.50" font-size="9.6" text-anchor="middle" fill="#000">2</text>
<line x1="357.00" y1="329.50" x2="357.00" y2="334.10" stroke="#000" stroke-width="1.3"/>
<text x="357.00" y="346.50" font-size="9.6" text-anchor="middle" fill="#000">3</text>
<line x1="365.25" y1="329.50" x2="365.25" y2="334.10" stroke="#000" stroke-width="1.3"/>
<text x="365.25" y="346.50" font-size="9.6" text-anchor="middle" fill="#000">4</text>
<line x1="389.50" y1="329.50" x2="389.50" y2="334.10" stroke="#000" stroke-width="1.3"/>
<text x="389.50" y="346.50" font-size="9.6" text-anchor="middle" fill="#000">1</text>
<line x1="397.75" y1="329.50" x2="397.75" y2="334.10" stroke="#000" stroke-width="1.3"/>
<text x="397.75" y="346.50" font-size="9.6" text-anchor="middle" fill="#000">2</text>
<line x1="406.00" y1="329.50" x2="406.00" y2="334.10" stroke="#000" stroke-width="1.3"/>
<text x="406.00" y="346.50" font-size="9.6" text-anchor="middle" fill="#000">3</text>
<line x1="414.25" y1="329.50" x2="414.25" y2="334.10" stroke="#000" stroke-width="1.3"/>
<text x="414.25" y="346.50" font-size="9.6" text-anchor="middle" fill="#000">4</text>
<line x1="422.50" y1="329.50" x2="422.50" y2="334.10" stroke="#000" stroke-width="1.3"/>
<text x="422.50" y="346.50" font-size="9.6" text-anchor="middle" fill="#000">5</text>
<text x="71.20" y="239.00" font-size="10.2" textLength="18.80" lengthAdjust="spacingAndGlyphs" fill="#000">NTC</text>
<text x="98.80" y="239.00" font-size="10.2" textLength="29.20" lengthAdjust="spacingAndGlyphs" fill="#000">IM-28z</text>
<text x="142.50" y="239.00" font-size="10.2" textLength="30.50" lengthAdjust="spacingAndGlyphs" fill="#000">IM-BBz</text>
<text x="196.80" y="239.00" font-size="10.2" textLength="29.00" lengthAdjust="spacingAndGlyphs" fill="#000">IM-27z</text>
<text x="247.50" y="239.00" font-size="10.2" textLength="28.30" lengthAdjust="spacingAndGlyphs" fill="#000">LF-28z</text>
<text x="290.00" y="239.00" font-size="10.2" textLength="29.50" lengthAdjust="spacingAndGlyphs" fill="#000">LF-BBz</text>
<text x="344.50" y="239.00" font-size="10.2" textLength="28.00" lengthAdjust="spacingAndGlyphs" fill="#000">LF-27z</text>
<text x="388.80" y="239.00" font-size="10.2" textLength="28.70" lengthAdjust="spacingAndGlyphs" fill="#000">CD27z</text>
<rect x="276.10" y="227.80" width="48.00" height="123.90" fill="none" stroke="#a3001f" stroke-width="1.4"/>
<rect x="381.20" y="227.80" width="48.00" height="123.90" fill="none" stroke="#a3001f" stroke-width="1.4"/>
<text x="63.80" y="364.20" font-size="11.5" textLength="62.40" lengthAdjust="spacingAndGlyphs" fill="#000"># of co-culture</text>
<line x1="130.50" y1="360.50" x2="172.00" y2="360.50" stroke="#000" stroke-width="1.2"/>
<path d="M178,360.50 L170.5,357.80 L172,360.50 L170.5,363.20 Z" fill="#000"/>
<text x="0" y="0" font-size="11.7" text-anchor="middle" textLength="100" lengthAdjust="spacingAndGlyphs" transform="translate(36.30 277.50) rotate(-90)">T cells (fold expansion)</text>
<circle cx="445.10" cy="168.40" r="2.9" fill="#000"/>
<text x="453.00" y="171.50" font-size="9.0" textLength="28.40" lengthAdjust="spacingAndGlyphs" fill="#2a2a2a">Donor 1</text>
<circle cx="445.10" cy="181.50" r="2.30" fill="#fff" stroke="#000" stroke-width="1.2"/>
<text x="453.00" y="184.60" font-size="9.0" textLength="28.40" lengthAdjust="spacingAndGlyphs" fill="#2a2a2a">Donor 2</text>
<circle cx="445.10" cy="194.60" r="2.50" fill="#fff" stroke="#000" stroke-width="0.8"/>
<path d="M442.60,194.70 A2.50,2.50 0 0 1 447.60,194.70 Z" fill="#000"/>
<text x="453.00" y="197.70" font-size="9.0" textLength="28.40" lengthAdjust="spacingAndGlyphs" fill="#2a2a2a">Donor 3</text>
<circle cx="445.10" cy="207.70" r="2.50" fill="#fff" stroke="#000" stroke-width="0.8"/>
<path d="M445.20,205.20 A2.50,2.50 0 0 0 445.20,210.20 Z" fill="#000"/>
<text x="453.00" y="210.80" font-size="9.0" textLength="28.40" lengthAdjust="spacingAndGlyphs" fill="#2a2a2a">Donor 4</text>
<path d="M441.42,217.85 L448.78,217.85 L445.10,224.67 Z" fill="#000"/>
<circle cx="445.10" cy="220.25" r="0.74" fill="#777"/>
<text x="453.00" y="223.90" font-size="9.0" textLength="28.40" lengthAdjust="spacingAndGlyphs" fill="#2a2a2a">Donor 5</text>
<line x1="64.40" y1="434.80" x2="64.40" y2="523.50" stroke="#000" stroke-width="1.8"/>
<line x1="63.50" y1="522.60" x2="200.80" y2="522.60" stroke="#000" stroke-width="1.8"/>
<line x1="59.40" y1="439.00" x2="64.40" y2="439.00" stroke="#000" stroke-width="1.4"/>
<line x1="61.90" y1="447.50" x2="64.40" y2="447.50" stroke="#000" stroke-width="1.3"/>
<text x="51.00" y="442.20" font-size="9.4" text-anchor="end" textLength="21.20" lengthAdjust="spacingAndGlyphs">1×10</text>
<text x="51.30" y="438.10" font-size="6.4" textLength="3.6" lengthAdjust="spacingAndGlyphs">5</text>
<line x1="59.40" y1="456.00" x2="64.40" y2="456.00" stroke="#000" stroke-width="1.4"/>
<line x1="61.90" y1="464.35" x2="64.40" y2="464.35" stroke="#000" stroke-width="1.3"/>
<text x="51.00" y="459.20" font-size="9.4" text-anchor="end" textLength="21.20" lengthAdjust="spacingAndGlyphs">8×10</text>
<text x="51.30" y="455.10" font-size="6.4" textLength="3.6" lengthAdjust="spacingAndGlyphs">4</text>
<line x1="59.40" y1="472.70" x2="64.40" y2="472.70" stroke="#000" stroke-width="1.4"/>
<line x1="61.90" y1="481.05" x2="64.40" y2="481.05" stroke="#000" stroke-width="1.3"/>
<text x="51.00" y="475.90" font-size="9.4" text-anchor="end" textLength="21.20" lengthAdjust="spacingAndGlyphs">6×10</text>
<text x="51.30" y="471.80" font-size="6.4" textLength="3.6" lengthAdjust="spacingAndGlyphs">4</text>
<line x1="59.40" y1="489.40" x2="64.40" y2="489.40" stroke="#000" stroke-width="1.4"/>
<line x1="61.90" y1="497.80" x2="64.40" y2="497.80" stroke="#000" stroke-width="1.3"/>
<text x="51.00" y="492.60" font-size="9.4" text-anchor="end" textLength="21.20" lengthAdjust="spacingAndGlyphs">4×10</text>
<text x="51.30" y="488.50" font-size="6.4" textLength="3.6" lengthAdjust="spacingAndGlyphs">4</text>
<line x1="59.40" y1="506.20" x2="64.40" y2="506.20" stroke="#000" stroke-width="1.4"/>
<line x1="61.90" y1="514.40" x2="64.40" y2="514.40" stroke="#000" stroke-width="1.3"/>
<text x="51.00" y="509.40" font-size="9.4" text-anchor="end" textLength="21.20" lengthAdjust="spacingAndGlyphs">2×10</text>
<text x="51.30" y="505.30" font-size="6.4" textLength="3.6" lengthAdjust="spacingAndGlyphs">4</text>
<text x="0" y="0" font-size="11" text-anchor="middle" textLength="96.0" lengthAdjust="spacingAndGlyphs" transform="translate(20.40 477.00) rotate(-90)">Cytokine conc (pg/mL)</text>
<line x1="75.00" y1="522.60" x2="75.00" y2="527.20" stroke="#000" stroke-width="1.3"/>
<line x1="91.44" y1="522.60" x2="91.44" y2="527.20" stroke="#000" stroke-width="1.3"/>
<line x1="107.88" y1="522.60" x2="107.88" y2="527.20" stroke="#000" stroke-width="1.3"/>
<line x1="124.32" y1="522.60" x2="124.32" y2="527.20" stroke="#000" stroke-width="1.3"/>
<line x1="140.76" y1="522.60" x2="140.76" y2="527.20" stroke="#000" stroke-width="1.3"/>
<line x1="157.20" y1="522.60" x2="157.20" y2="527.20" stroke="#000" stroke-width="1.3"/>
<line x1="173.64" y1="522.60" x2="173.64" y2="527.20" stroke="#000" stroke-width="1.3"/>
<line x1="190.08" y1="522.60" x2="190.08" y2="527.20" stroke="#000" stroke-width="1.3"/>
<rect x="86.14" y="520.60" width="10.60" height="2.00" fill="#5a0a20"/>
<rect x="86.14" y="519.20" width="10.60" height="1.40" fill="#8a6a10"/>
<rect x="86.14" y="517.80" width="10.60" height="1.40" fill="#2d5f8a"/>
<line x1="86.14" y1="520.60" x2="96.74" y2="520.60" stroke="#000" stroke-width="0.7"/>
<line x1="86.14" y1="519.20" x2="96.74" y2="519.20" stroke="#000" stroke-width="0.7"/>
<rect x="86.14" y="517.80" width="10.60" height="4.80" fill="none" stroke="#000" stroke-width="0.9"/>
<line x1="91.44" y1="517.80" x2="91.44" y2="516.20" stroke="#000" stroke-width="1.0"/>
<line x1="90.34" y1="516.20" x2="92.54" y2="516.20" stroke="#000" stroke-width="1.0"/>
<rect x="89.84" y="516.00" width="3.20" height="6.60" fill="#000"/>
<rect x="102.48" y="513.10" width="10.80" height="9.50" fill="#a3002c"/>
<rect x="102.48" y="511.20" width="10.80" height="1.90" fill="#5a5620"/>
<rect x="102.48" y="502.30" width="10.80" height="8.90" fill="#e8951a"/>
<rect x="102.48" y="494.50" width="10.80" height="7.80" fill="#6cb0e8"/>
<line x1="102.48" y1="513.10" x2="113.28" y2="513.10" stroke="#000" stroke-width="0.7"/>
<line x1="102.48" y1="511.20" x2="113.28" y2="511.20" stroke="#000" stroke-width="0.7"/>
<line x1="102.48" y1="502.30" x2="113.28" y2="502.30" stroke="#000" stroke-width="0.7"/>
<rect x="102.48" y="494.50" width="10.80" height="28.10" fill="none" stroke="#000" stroke-width="0.9"/>
<line x1="107.88" y1="494.50" x2="107.88" y2="485.60" stroke="#000" stroke-width="1.0"/>
<line x1="106.78" y1="485.60" x2="108.98" y2="485.60" stroke="#000" stroke-width="1.0"/>
<line x1="107.88" y1="511.00" x2="107.88" y2="498.00" stroke="#000" stroke-width="1.0"/>
<line x1="106.78" y1="498.00" x2="108.98" y2="498.00" stroke="#000" stroke-width="1.0"/>
<rect x="119.02" y="513.50" width="10.60" height="9.10" fill="#a3002c"/>
<rect x="119.02" y="511.50" width="10.60" height="2.00" fill="#5a5620"/>
<rect x="119.02" y="502.30" width="10.60" height="9.20" fill="#e8951a"/>
<rect x="119.02" y="494.50" width="10.60" height="7.80" fill="#6cb0e8"/>
<line x1="119.02" y1="513.50" x2="129.62" y2="513.50" stroke="#000" stroke-width="0.7"/>
<line x1="119.02" y1="511.50" x2="129.62" y2="511.50" stroke="#000" stroke-width="0.7"/>
<line x1="119.02" y1="502.30" x2="129.62" y2="502.30" stroke="#000" stroke-width="0.7"/>
<rect x="119.02" y="494.50" width="10.60" height="28.10" fill="none" stroke="#000" stroke-width="0.9"/>
<line x1="124.32" y1="494.50" x2="124.32" y2="490.20" stroke="#000" stroke-width="1.0"/>
<line x1="123.22" y1="490.20" x2="125.42" y2="490.20" stroke="#000" stroke-width="1.0"/>
<line x1="124.32" y1="512.00" x2="124.32" y2="508.50" stroke="#000" stroke-width="1.0"/>
<line x1="123.22" y1="508.50" x2="125.42" y2="508.50" stroke="#000" stroke-width="1.0"/>
<line x1="124.32" y1="502.00" x2="124.32" y2="498.50" stroke="#000" stroke-width="1.0"/>
<line x1="123.22" y1="498.50" x2="125.42" y2="498.50" stroke="#000" stroke-width="1.0"/>
<rect x="135.31" y="519.40" width="10.90" height="3.20" fill="#a3002c"/>
<rect x="135.31" y="516.70" width="10.90" height="2.70" fill="#e8951a"/>
<rect x="135.31" y="514.20" width="10.90" height="2.50" fill="#6cb0e8"/>
<line x1="135.31" y1="519.40" x2="146.21" y2="519.40" stroke="#000" stroke-width="0.7"/>
<line x1="135.31" y1="516.70" x2="146.21" y2="516.70" stroke="#000" stroke-width="0.7"/>
<rect x="135.31" y="514.20" width="10.90" height="8.40" fill="none" stroke="#000" stroke-width="0.9"/>
<line x1="140.76" y1="514.20" x2="140.76" y2="512.40" stroke="#000" stroke-width="1.0"/>
<line x1="139.66" y1="512.40" x2="141.86" y2="512.40" stroke="#000" stroke-width="1.0"/>
<rect x="152.00" y="516.90" width="10.40" height="5.70" fill="#a3002c"/>
<rect x="152.00" y="510.60" width="10.40" height="6.30" fill="#e8951a"/>
<rect x="152.00" y="505.00" width="10.40" height="5.60" fill="#6cb0e8"/>
<line x1="152.00" y1="516.90" x2="162.40" y2="516.90" stroke="#000" stroke-width="0.7"/>
<line x1="152.00" y1="510.60" x2="162.40" y2="510.60" stroke="#000" stroke-width="0.7"/>
<rect x="152.00" y="505.00" width="10.40" height="17.60" fill="none" stroke="#000" stroke-width="0.9"/>
<line x1="157.20" y1="505.00" x2="157.20" y2="503.40" stroke="#000" stroke-width="1.0"/>
<line x1="156.10" y1="503.40" x2="158.30" y2="503.40" stroke="#000" stroke-width="1.0"/>
<line x1="157.20" y1="516.00" x2="157.20" y2="513.00" stroke="#000" stroke-width="1.0"/>
<line x1="156.10" y1="513.00" x2="158.30" y2="513.00" stroke="#000" stroke-width="1.0"/>
<line x1="157.20" y1="510.00" x2="157.20" y2="507.50" stroke="#000" stroke-width="1.0"/>
<line x1="156.10" y1="507.50" x2="158.30" y2="507.50" stroke="#000" stroke-width="1.0"/>
<rect x="168.44" y="512.00" width="10.40" height="10.60" fill="#a3002c"/>
<rect x="168.44" y="509.90" width="10.40" height="2.10" fill="#5a5620"/>
<rect x="168.44" y="507.70" width="10.40" height="2.20" fill="#f5c518"/>
<rect x="168.44" y="495.40" width="10.40" height="12.30" fill="#e8951a"/>
<rect x="168.44" y="483.40" width="10.40" height="12.00" fill="#6cb0e8"/>
<line x1="168.44" y1="512.00" x2="178.84" y2="512.00" stroke="#000" stroke-width="0.7"/>
<line x1="168.44" y1="509.90" x2="178.84" y2="509.90" stroke="#000" stroke-width="0.7"/>
<line x1="168.44" y1="507.70" x2="178.84" y2="507.70" stroke="#000" stroke-width="0.7"/>
<line x1="168.44" y1="495.40" x2="178.84" y2="495.40" stroke="#000" stroke-width="0.7"/>
<rect x="168.44" y="483.40" width="10.40" height="39.20" fill="none" stroke="#000" stroke-width="0.9"/>
<line x1="173.64" y1="483.40" x2="173.64" y2="478.80" stroke="#000" stroke-width="1.0"/>
<line x1="172.54" y1="478.80" x2="174.74" y2="478.80" stroke="#000" stroke-width="1.0"/>
<line x1="173.64" y1="512.00" x2="173.64" y2="506.00" stroke="#000" stroke-width="1.0"/>
<line x1="172.54" y1="506.00" x2="174.74" y2="506.00" stroke="#000" stroke-width="1.0"/>
<line x1="173.64" y1="506.00" x2="173.64" y2="501.00" stroke="#000" stroke-width="1.0"/>
<line x1="172.54" y1="501.00" x2="174.74" y2="501.00" stroke="#000" stroke-width="1.0"/>
<line x1="173.64" y1="495.00" x2="173.64" y2="490.00" stroke="#000" stroke-width="1.0"/>
<line x1="172.54" y1="490.00" x2="174.74" y2="490.00" stroke="#000" stroke-width="1.0"/>
<rect x="184.98" y="507.00" width="10.20" height="15.60" fill="#a3002c"/>
<rect x="184.98" y="505.00" width="10.20" height="2.00" fill="#fbe6a4"/>
<rect x="184.98" y="500.20" width="10.20" height="4.80" fill="#f5c518"/>
<rect x="184.98" y="480.40" width="10.20" height="19.80" fill="#e8951a"/>
<rect x="184.98" y="461.60" width="10.20" height="18.80" fill="#6cb0e8"/>
<line x1="184.98" y1="507.00" x2="195.18" y2="507.00" stroke="#000" stroke-width="0.7"/>
<line x1="184.98" y1="505.00" x2="195.18" y2="505.00" stroke="#000" stroke-width="0.7"/>
<line x1="184.98" y1="500.20" x2="195.18" y2="500.20" stroke="#000" stroke-width="0.7"/>
<line x1="184.98" y1="480.40" x2="195.18" y2="480.40" stroke="#000" stroke-width="0.7"/>
<rect x="184.98" y="461.60" width="10.20" height="61.00" fill="none" stroke="#000" stroke-width="0.9"/>
<line x1="190.08" y1="461.60" x2="190.08" y2="453.60" stroke="#000" stroke-width="1.0"/>
<line x1="188.98" y1="453.60" x2="191.18" y2="453.60" stroke="#000" stroke-width="1.0"/>
<line x1="190.08" y1="507.00" x2="190.08" y2="498.00" stroke="#000" stroke-width="1.0"/>
<line x1="188.98" y1="498.00" x2="191.18" y2="498.00" stroke="#000" stroke-width="1.0"/>
<line x1="190.08" y1="498.00" x2="190.08" y2="494.00" stroke="#000" stroke-width="1.0"/>
<line x1="188.98" y1="494.00" x2="191.18" y2="494.00" stroke="#000" stroke-width="1.0"/>
<line x1="190.08" y1="480.00" x2="190.08" y2="474.00" stroke="#000" stroke-width="1.0"/>
<line x1="188.98" y1="474.00" x2="191.18" y2="474.00" stroke="#000" stroke-width="1.0"/>
<path d="M69.65,501.20 L70.09,502.29 L71.27,502.37 L70.36,503.13 L70.65,504.28 L69.65,503.65 L68.65,504.28 L68.94,503.13 L68.03,502.37 L69.21,502.29 Z M73.25,501.20 L73.69,502.29 L74.87,502.37 L73.96,503.13 L74.25,504.28 L73.25,503.65 L72.25,504.28 L72.54,503.13 L71.63,502.37 L72.81,502.29 Z M76.85,501.20 L77.29,502.29 L78.47,502.37 L77.56,503.13 L77.85,504.28 L76.85,503.65 L75.85,504.28 L76.14,503.13 L75.23,502.37 L76.41,502.29 Z M80.45,501.20 L80.89,502.29 L82.07,502.37 L81.16,503.13 L81.45,504.28 L80.45,503.65 L79.45,504.28 L79.74,503.13 L78.83,502.37 L80.01,502.29 Z" fill="#1a1a1a"/>
<path d="M86.05,501.40 L86.49,502.49 L87.67,502.57 L86.76,503.33 L87.05,504.48 L86.05,503.85 L85.05,504.48 L85.34,503.33 L84.43,502.57 L85.61,502.49 Z M89.65,501.40 L90.09,502.49 L91.27,502.57 L90.36,503.33 L90.65,504.48 L89.65,503.85 L88.65,504.48 L88.94,503.33 L88.03,502.57 L89.21,502.49 Z M93.25,501.40 L93.69,502.49 L94.87,502.57 L93.96,503.33 L94.25,504.48 L93.25,503.85 L92.25,504.48 L92.54,503.33 L91.63,502.57 L92.81,502.49 Z M96.85,501.40 L97.29,502.49 L98.47,502.57 L97.56,503.33 L97.85,504.48 L96.85,503.85 L95.85,504.48 L96.14,503.33 L95.23,502.57 L96.41,502.49 Z" fill="#1a1a1a"/>
<path d="M102.50,477.10 L102.94,478.19 L104.12,478.27 L103.21,479.03 L103.50,480.18 L102.50,479.55 L101.50,480.18 L101.79,479.03 L100.88,478.27 L102.06,478.19 Z M106.10,477.10 L106.54,478.19 L107.72,478.27 L106.81,479.03 L107.10,480.18 L106.10,479.55 L105.10,480.18 L105.39,479.03 L104.48,478.27 L105.66,478.19 Z M109.70,477.10 L110.14,478.19 L111.32,478.27 L110.41,479.03 L110.70,480.18 L109.70,479.55 L108.70,480.18 L108.99,479.03 L108.08,478.27 L109.26,478.19 Z M113.30,477.10 L113.74,478.19 L114.92,478.27 L114.01,479.03 L114.30,480.18 L113.30,479.55 L112.30,480.18 L112.59,479.03 L111.68,478.27 L112.86,478.19 Z" fill="#1a1a1a"/>
<path d="M119.00,477.10 L119.44,478.19 L120.62,478.27 L119.71,479.03 L120.00,480.18 L119.00,479.55 L118.00,480.18 L118.29,479.03 L117.38,478.27 L118.56,478.19 Z M122.60,477.10 L123.04,478.19 L124.22,478.27 L123.31,479.03 L123.60,480.18 L122.60,479.55 L121.60,480.18 L121.89,479.03 L120.98,478.27 L122.16,478.19 Z M126.20,477.10 L126.64,478.19 L127.82,478.27 L126.91,479.03 L127.20,480.18 L126.20,479.55 L125.20,480.18 L125.49,479.03 L124.58,478.27 L125.76,478.19 Z M129.80,477.10 L130.24,478.19 L131.42,478.27 L130.51,479.03 L130.80,480.18 L129.80,479.55 L128.80,480.18 L129.09,479.03 L128.18,478.27 L129.36,478.19 Z" fill="#1a1a1a"/>
<path d="M135.50,492.40 L135.94,493.49 L137.12,493.57 L136.21,494.33 L136.50,495.48 L135.50,494.85 L134.50,495.48 L134.79,494.33 L133.88,493.57 L135.06,493.49 Z M139.10,492.40 L139.54,493.49 L140.72,493.57 L139.81,494.33 L140.10,495.48 L139.10,494.85 L138.10,495.48 L138.39,494.33 L137.48,493.57 L138.66,493.49 Z M142.70,492.40 L143.14,493.49 L144.32,493.57 L143.41,494.33 L143.70,495.48 L142.70,494.85 L141.70,495.48 L141.99,494.33 L141.08,493.57 L142.26,493.49 Z M146.30,492.40 L146.74,493.49 L147.92,493.57 L147.01,494.33 L147.30,495.48 L146.30,494.85 L145.30,495.48 L145.59,494.33 L144.68,493.57 L145.86,493.49 Z" fill="#1a1a1a"/>
<path d="M151.90,492.40 L152.34,493.49 L153.52,493.57 L152.61,494.33 L152.90,495.48 L151.90,494.85 L150.90,495.48 L151.19,494.33 L150.28,493.57 L151.46,493.49 Z M155.50,492.40 L155.94,493.49 L157.12,493.57 L156.21,494.33 L156.50,495.48 L155.50,494.85 L154.50,495.48 L154.79,494.33 L153.88,493.57 L155.06,493.49 Z M159.10,492.40 L159.54,493.49 L160.72,493.57 L159.81,494.33 L160.10,495.48 L159.10,494.85 L158.10,495.48 L158.39,494.33 L157.48,493.57 L158.66,493.49 Z M162.70,492.40 L163.14,493.49 L164.32,493.57 L163.41,494.33 L163.70,495.48 L162.70,494.85 L161.70,495.48 L161.99,494.33 L161.08,493.57 L162.26,493.49 Z" fill="#1a1a1a"/>
<path d="M172.00,466.70 L172.44,467.79 L173.62,467.87 L172.71,468.63 L173.00,469.78 L172.00,469.15 L171.00,469.78 L171.29,468.63 L170.38,467.87 L171.56,467.79 Z M175.60,466.70 L176.04,467.79 L177.22,467.87 L176.31,468.63 L176.60,469.78 L175.60,469.15 L174.60,469.78 L174.89,468.63 L173.98,467.87 L175.16,467.79 Z" fill="#1a1a1a"/>
<text x="111.20" y="424.60" font-size="12.5" textLength="42.80" lengthAdjust="spacingAndGlyphs" fill="#000">1st stim</text>
<text x="79.40" y="536.40" font-size="9.8" text-anchor="end" transform="rotate(-45 79.40 536.40)">NTC</text>
<text x="95.84" y="536.40" font-size="9.8" text-anchor="end" transform="rotate(-45 95.84 536.40)">IM-28z</text>
<text x="112.28" y="536.40" font-size="9.8" text-anchor="end" transform="rotate(-45 112.28 536.40)">IM-BBz</text>
<text x="128.72" y="536.40" font-size="9.8" text-anchor="end" transform="rotate(-45 128.72 536.40)">IM-27z</text>
<text x="145.16" y="536.40" font-size="9.8" text-anchor="end" transform="rotate(-45 145.16 536.40)">LF-28z</text>
<text x="161.60" y="536.40" font-size="9.8" text-anchor="end" transform="rotate(-45 161.60 536.40)">LF-BBz</text>
<text x="178.04" y="536.40" font-size="9.8" text-anchor="end" transform="rotate(-45 178.04 536.40)">LF-27z</text>
<text x="194.48" y="536.40" font-size="9.8" text-anchor="end" transform="rotate(-45 194.48 536.40)">CD27z</text>
<line x1="277.40" y1="432.90" x2="277.40" y2="523.40" stroke="#000" stroke-width="1.8"/>
<line x1="276.50" y1="522.50" x2="417.50" y2="522.50" stroke="#000" stroke-width="1.8"/>
<line x1="272.40" y1="437.00" x2="277.40" y2="437.00" stroke="#000" stroke-width="1.4"/>
<line x1="274.90" y1="445.55" x2="277.40" y2="445.55" stroke="#000" stroke-width="1.3"/>
<text x="265.70" y="440.20" font-size="9.4" text-anchor="end" textLength="23.10" lengthAdjust="spacingAndGlyphs">1×10</text>
<text x="266.00" y="436.10" font-size="6.4" textLength="3.6" lengthAdjust="spacingAndGlyphs">5</text>
<line x1="272.40" y1="454.10" x2="277.40" y2="454.10" stroke="#000" stroke-width="1.4"/>
<line x1="274.90" y1="462.60" x2="277.40" y2="462.60" stroke="#000" stroke-width="1.3"/>
<text x="265.70" y="457.30" font-size="9.4" text-anchor="end" textLength="23.10" lengthAdjust="spacingAndGlyphs">8×10</text>
<text x="266.00" y="453.20" font-size="6.4" textLength="3.6" lengthAdjust="spacingAndGlyphs">4</text>
<line x1="272.40" y1="471.10" x2="277.40" y2="471.10" stroke="#000" stroke-width="1.4"/>
<line x1="274.90" y1="479.65" x2="277.40" y2="479.65" stroke="#000" stroke-width="1.3"/>
<text x="265.70" y="474.30" font-size="9.4" text-anchor="end" textLength="23.10" lengthAdjust="spacingAndGlyphs">6×10</text>
<text x="266.00" y="470.20" font-size="6.4" textLength="3.6" lengthAdjust="spacingAndGlyphs">4</text>
<line x1="272.40" y1="488.20" x2="277.40" y2="488.20" stroke="#000" stroke-width="1.4"/>
<line x1="274.90" y1="496.75" x2="277.40" y2="496.75" stroke="#000" stroke-width="1.3"/>
<text x="265.70" y="491.40" font-size="9.4" text-anchor="end" textLength="23.10" lengthAdjust="spacingAndGlyphs">4×10</text>
<text x="266.00" y="487.30" font-size="6.4" textLength="3.6" lengthAdjust="spacingAndGlyphs">4</text>
<line x1="272.40" y1="505.30" x2="277.40" y2="505.30" stroke="#000" stroke-width="1.4"/>
<line x1="274.90" y1="513.90" x2="277.40" y2="513.90" stroke="#000" stroke-width="1.3"/>
<text x="265.70" y="508.50" font-size="9.4" text-anchor="end" textLength="23.10" lengthAdjust="spacingAndGlyphs">2×10</text>
<text x="266.00" y="504.40" font-size="6.4" textLength="3.6" lengthAdjust="spacingAndGlyphs">4</text>
<text x="0" y="0" font-size="11" text-anchor="middle" textLength="96.0" lengthAdjust="spacingAndGlyphs" transform="translate(234.20 475.50) rotate(-90)">Cytokine conc (pg/mL)</text>
<line x1="289.90" y1="522.50" x2="289.90" y2="527.10" stroke="#000" stroke-width="1.3"/>
<line x1="309.20" y1="522.50" x2="309.20" y2="527.10" stroke="#000" stroke-width="1.3"/>
<line x1="328.50" y1="522.50" x2="328.50" y2="527.10" stroke="#000" stroke-width="1.3"/>
<line x1="347.80" y1="522.50" x2="347.80" y2="527.10" stroke="#000" stroke-width="1.3"/>
<line x1="367.10" y1="522.50" x2="367.10" y2="527.10" stroke="#000" stroke-width="1.3"/>
<line x1="386.40" y1="522.50" x2="386.40" y2="527.10" stroke="#000" stroke-width="1.3"/>
<line x1="405.70" y1="522.50" x2="405.70" y2="527.10" stroke="#000" stroke-width="1.3"/>
<rect x="283.60" y="521.00" width="12.60" height="1.50" fill="#3a0010"/>
<rect x="283.60" y="519.00" width="12.60" height="2.00" fill="#201010"/>
<line x1="283.60" y1="521.00" x2="296.20" y2="521.00" stroke="#000" stroke-width="0.7"/>
<rect x="283.60" y="519.00" width="12.60" height="3.50" fill="none" stroke="#000" stroke-width="0.9"/>
<line x1="289.90" y1="519.00" x2="289.90" y2="517.50" stroke="#000" stroke-width="1.0"/>
<line x1="288.80" y1="517.50" x2="291.00" y2="517.50" stroke="#000" stroke-width="1.0"/>
<rect x="288.10" y="517.20" width="3.60" height="2.50" fill="#000"/>
<rect x="303.10" y="503.30" width="12.20" height="19.20" fill="#a3002c"/>
<rect x="303.10" y="499.60" width="12.20" height="3.70" fill="#f5c518"/>
<rect x="303.10" y="479.40" width="12.20" height="20.20" fill="#6cb0e8"/>
<line x1="303.10" y1="503.30" x2="315.30" y2="503.30" stroke="#000" stroke-width="0.7"/>
<line x1="303.10" y1="499.60" x2="315.30" y2="499.60" stroke="#000" stroke-width="0.7"/>
<rect x="303.10" y="479.40" width="12.20" height="43.10" fill="none" stroke="#000" stroke-width="0.9"/>
<line x1="309.20" y1="479.40" x2="309.20" y2="457.80" stroke="#000" stroke-width="1.0"/>
<line x1="308.10" y1="457.80" x2="310.30" y2="457.80" stroke="#000" stroke-width="1.0"/>
<line x1="309.20" y1="501.30" x2="309.20" y2="482.70" stroke="#000" stroke-width="1.0"/>
<line x1="308.10" y1="482.70" x2="310.30" y2="482.70" stroke="#000" stroke-width="1.0"/>
<circle cx="309.20" cy="494.4" r="1.2" fill="#000"/>
<rect x="322.45" y="512.30" width="12.10" height="10.20" fill="#a3002c"/>
<rect x="322.45" y="510.00" width="12.10" height="2.30" fill="#201010"/>
<rect x="322.45" y="500.20" width="12.10" height="9.80" fill="#6cb0e8"/>
<line x1="322.45" y1="512.30" x2="334.55" y2="512.30" stroke="#000" stroke-width="0.7"/>
<line x1="322.45" y1="510.00" x2="334.55" y2="510.00" stroke="#000" stroke-width="0.7"/>
<rect x="322.45" y="500.20" width="12.10" height="22.30" fill="none" stroke="#000" stroke-width="0.9"/>
<line x1="328.50" y1="500.20" x2="328.50" y2="494.40" stroke="#000" stroke-width="1.0"/>
<line x1="327.40" y1="494.40" x2="329.60" y2="494.40" stroke="#000" stroke-width="1.0"/>
<line x1="328.50" y1="510.00" x2="328.50" y2="506.80" stroke="#000" stroke-width="1.0"/>
<line x1="327.40" y1="506.80" x2="329.60" y2="506.80" stroke="#000" stroke-width="1.0"/>
<rect x="341.70" y="519.50" width="12.20" height="3.00" fill="#a3002c"/>
<rect x="341.70" y="516.90" width="12.20" height="2.60" fill="#6cb0e8"/>
<line x1="341.70" y1="519.50" x2="353.90" y2="519.50" stroke="#000" stroke-width="0.7"/>
<rect x="341.70" y="516.90" width="12.20" height="5.60" fill="none" stroke="#000" stroke-width="0.9"/>
<line x1="347.80" y1="516.90" x2="347.80" y2="514.60" stroke="#000" stroke-width="1.0"/>
<line x1="346.70" y1="514.60" x2="348.90" y2="514.60" stroke="#000" stroke-width="1.0"/>
<rect x="360.90" y="515.10" width="12.40" height="7.40" fill="#a3002c"/>
<rect x="360.90" y="513.80" width="12.40" height="1.30" fill="#201010"/>
<rect x="360.90" y="505.90" width="12.40" height="7.90" fill="#6cb0e8"/>
<line x1="360.90" y1="515.10" x2="373.30" y2="515.10" stroke="#000" stroke-width="0.7"/>
<line x1="360.90" y1="513.80" x2="373.30" y2="513.80" stroke="#000" stroke-width="0.7"/>
<rect x="360.90" y="505.90" width="12.40" height="16.60" fill="none" stroke="#000" stroke-width="0.9"/>
<line x1="367.10" y1="505.90" x2="367.10" y2="502.60" stroke="#000" stroke-width="1.0"/>
<line x1="366.00" y1="502.60" x2="368.20" y2="502.60" stroke="#000" stroke-width="1.0"/>
<line x1="367.10" y1="513.00" x2="367.10" y2="509.00" stroke="#000" stroke-width="1.0"/>
<line x1="366.00" y1="509.00" x2="368.20" y2="509.00" stroke="#000" stroke-width="1.0"/>
<rect x="380.20" y="510.50" width="12.40" height="12.00" fill="#a3002c"/>
<rect x="380.20" y="508.40" width="12.40" height="2.10" fill="#f5c518"/>
<rect x="380.20" y="496.20" width="12.40" height="12.20" fill="#6cb0e8"/>
<line x1="380.20" y1="510.50" x2="392.60" y2="510.50" stroke="#000" stroke-width="0.7"/>
<line x1="380.20" y1="508.40" x2="392.60" y2="508.40" stroke="#000" stroke-width="0.7"/>
<rect x="380.20" y="496.20" width="12.40" height="26.30" fill="none" stroke="#000" stroke-width="0.9"/>
<line x1="386.40" y1="496.20" x2="386.40" y2="487.40" stroke="#000" stroke-width="1.0"/>
<line x1="385.30" y1="487.40" x2="387.50" y2="487.40" stroke="#000" stroke-width="1.0"/>
<line x1="386.40" y1="508.00" x2="386.40" y2="501.00" stroke="#000" stroke-width="1.0"/>
<line x1="385.30" y1="501.00" x2="387.50" y2="501.00" stroke="#000" stroke-width="1.0"/>
<rect x="399.45" y="502.50" width="12.50" height="20.00" fill="#a3002c"/>
<rect x="399.45" y="498.80" width="12.50" height="3.70" fill="#f5c518"/>
<rect x="399.45" y="495.00" width="12.50" height="3.80" fill="#1f4680"/>
<rect x="399.45" y="456.80" width="12.50" height="38.20" fill="#6cb0e8"/>
<line x1="399.45" y1="502.50" x2="411.95" y2="502.50" stroke="#000" stroke-width="0.7"/>
<line x1="399.45" y1="498.80" x2="411.95" y2="498.80" stroke="#000" stroke-width="0.7"/>
<line x1="399.45" y1="495.00" x2="411.95" y2="495.00" stroke="#000" stroke-width="0.7"/>
<rect x="399.45" y="456.80" width="12.50" height="65.70" fill="none" stroke="#000" stroke-width="0.9"/>
<line x1="405.70" y1="456.80" x2="405.70" y2="438.00" stroke="#000" stroke-width="1.0"/>
<line x1="404.60" y1="438.00" x2="406.80" y2="438.00" stroke="#000" stroke-width="1.0"/>
<line x1="405.70" y1="501.00" x2="405.70" y2="490.50" stroke="#000" stroke-width="1.0"/>
<line x1="404.60" y1="490.50" x2="406.80" y2="490.50" stroke="#000" stroke-width="1.0"/>
<path d="M284.70,500.20 L285.14,501.29 L286.32,501.37 L285.41,502.13 L285.70,503.28 L284.70,502.65 L283.70,503.28 L283.99,502.13 L283.08,501.37 L284.26,501.29 Z M288.30,500.20 L288.74,501.29 L289.92,501.37 L289.01,502.13 L289.30,503.28 L288.30,502.65 L287.30,503.28 L287.59,502.13 L286.68,501.37 L287.86,501.29 Z M291.90,500.20 L292.34,501.29 L293.52,501.37 L292.61,502.13 L292.90,503.28 L291.90,502.65 L290.90,503.28 L291.19,502.13 L290.28,501.37 L291.46,501.29 Z M295.50,500.20 L295.94,501.29 L297.12,501.37 L296.21,502.13 L296.50,503.28 L295.50,502.65 L294.50,503.28 L294.79,502.13 L293.88,501.37 L295.06,501.29 Z" fill="#1a1a1a"/>
<path d="M306.00,445.50 L306.44,446.59 L307.62,446.67 L306.71,447.43 L307.00,448.58 L306.00,447.95 L305.00,448.58 L305.29,447.43 L304.38,446.67 L305.56,446.59 Z M309.60,445.50 L310.04,446.59 L311.22,446.67 L310.31,447.43 L310.60,448.58 L309.60,447.95 L308.60,448.58 L308.89,447.43 L307.98,446.67 L309.16,446.59 Z M313.20,445.50 L313.64,446.59 L314.82,446.67 L313.91,447.43 L314.20,448.58 L313.20,447.95 L312.20,448.58 L312.49,447.43 L311.58,446.67 L312.76,446.59 Z" fill="#1a1a1a"/>
<path d="M327.00,445.50 L327.44,446.59 L328.62,446.67 L327.71,447.43 L328.00,448.58 L327.00,447.95 L326.00,448.58 L326.29,447.43 L325.38,446.67 L326.56,446.59 Z M330.60,445.50 L331.04,446.59 L332.22,446.67 L331.31,447.43 L331.60,448.58 L330.60,447.95 L329.60,448.58 L329.89,447.43 L328.98,446.67 L330.16,446.59 Z" fill="#1a1a1a"/>
<path d="M342.40,500.20 L342.84,501.29 L344.02,501.37 L343.11,502.13 L343.40,503.28 L342.40,502.65 L341.40,503.28 L341.69,502.13 L340.78,501.37 L341.96,501.29 Z M346.00,500.20 L346.44,501.29 L347.62,501.37 L346.71,502.13 L347.00,503.28 L346.00,502.65 L345.00,503.28 L345.29,502.13 L344.38,501.37 L345.56,501.29 Z M349.60,500.20 L350.04,501.29 L351.22,501.37 L350.31,502.13 L350.60,503.28 L349.60,502.65 L348.60,503.28 L348.89,502.13 L347.98,501.37 L349.16,501.29 Z M353.20,500.20 L353.64,501.29 L354.82,501.37 L353.91,502.13 L354.20,503.28 L353.20,502.65 L352.20,503.28 L352.49,502.13 L351.58,501.37 L352.76,501.29 Z" fill="#1a1a1a"/>
<path d="M363.70,476.00 L364.14,477.09 L365.32,477.17 L364.41,477.93 L364.70,479.08 L363.70,478.45 L362.70,479.08 L362.99,477.93 L362.08,477.17 L363.26,477.09 Z M367.30,476.00 L367.74,477.09 L368.92,477.17 L368.01,477.93 L368.30,479.08 L367.30,478.45 L366.30,479.08 L366.59,477.93 L365.68,477.17 L366.86,477.09 Z M370.90,476.00 L371.34,477.09 L372.52,477.17 L371.61,477.93 L371.90,479.08 L370.90,478.45 L369.90,479.08 L370.19,477.93 L369.28,477.17 L370.46,477.09 Z" fill="#1a1a1a"/>
<path d="M384.70,476.00 L385.14,477.09 L386.32,477.17 L385.41,477.93 L385.70,479.08 L384.70,478.45 L383.70,479.08 L383.99,477.93 L383.08,477.17 L384.26,477.09 Z M388.30,476.00 L388.74,477.09 L389.92,477.17 L389.01,477.93 L389.30,479.08 L388.30,478.45 L387.30,479.08 L387.59,477.93 L386.68,477.17 L387.86,477.09 Z" fill="#1a1a1a"/>
<text x="323.50" y="424.60" font-size="12.5" textLength="48.60" lengthAdjust="spacingAndGlyphs" fill="#000">2nd stim</text>
<text x="294.30" y="536.30" font-size="9.8" text-anchor="end" transform="rotate(-45 294.30 536.30)">IM-28z</text>
<text x="313.60" y="536.30" font-size="9.8" text-anchor="end" transform="rotate(-45 313.60 536.30)">IM-BBz</text>
<text x="332.90" y="536.30" font-size="9.8" text-anchor="end" transform="rotate(-45 332.90 536.30)">IM-27z</text>
<text x="352.20" y="536.30" font-size="9.8" text-anchor="end" transform="rotate(-45 352.20 536.30)">LF-28z</text>
<text x="371.50" y="536.30" font-size="9.8" text-anchor="end" transform="rotate(-45 371.50 536.30)">LF-BBz</text>
<text x="390.80" y="536.30" font-size="9.8" text-anchor="end" transform="rotate(-45 390.80 536.30)">LF-27z</text>
<text x="410.10" y="536.30" font-size="9.8" text-anchor="end" transform="rotate(-45 410.10 536.30)">CD27z</text>
<rect x="431.90" y="445.50" width="5.50" height="5.50" fill="#f5c518" stroke="#000" stroke-width="0.8"/>
<text x="442.00" y="451.50" font-size="8.8" textLength="20.50" lengthAdjust="spacingAndGlyphs" fill="#2a2a2a">IFNγ</text>
<rect x="431.90" y="454.00" width="5.50" height="5.50" fill="#e8951a" stroke="#000" stroke-width="0.8"/>
<text x="442.00" y="460.00" font-size="8.8" textLength="11.50" lengthAdjust="spacingAndGlyphs" fill="#2a2a2a">IL2</text>
<rect x="431.90" y="462.60" width="5.50" height="5.50" fill="#a3002c" stroke="#000" stroke-width="0.8"/>
<text x="442.00" y="468.60" font-size="8.8" textLength="30.60" lengthAdjust="spacingAndGlyphs" fill="#2a2a2a">GM-CSF</text>
<rect x="431.90" y="471.10" width="5.50" height="5.50" fill="#fbe6a4" stroke="#000" stroke-width="0.8"/>
<text x="442.00" y="477.10" font-size="8.8" textLength="21.50" lengthAdjust="spacingAndGlyphs" fill="#2a2a2a">TNFα</text>
<rect x="431.90" y="484.30" width="5.50" height="5.50" fill="#1f4680" stroke="#000" stroke-width="0.8"/>
<text x="442.00" y="490.30" font-size="8.8" textLength="11.50" lengthAdjust="spacingAndGlyphs" fill="#2a2a2a">IL4</text>
<rect x="431.90" y="492.60" width="5.50" height="5.50" fill="#9b93cf" stroke="#000" stroke-width="0.8"/>
<text x="442.00" y="498.60" font-size="8.8" textLength="11.50" lengthAdjust="spacingAndGlyphs" fill="#2a2a2a">IL5</text>
<rect x="431.90" y="500.90" width="5.50" height="5.50" fill="#c3d596" stroke="#000" stroke-width="0.8"/>
<text x="442.00" y="506.90" font-size="8.8" textLength="11.50" lengthAdjust="spacingAndGlyphs" fill="#2a2a2a">IL6</text>
<rect x="431.90" y="509.10" width="5.50" height="5.50" fill="#5fad45" stroke="#000" stroke-width="0.8"/>
<text x="442.00" y="515.10" font-size="8.8" textLength="15.50" lengthAdjust="spacingAndGlyphs" fill="#2a2a2a">IL10</text>
<rect x="431.90" y="517.30" width="5.50" height="5.50" fill="#6cb0e8" stroke="#000" stroke-width="0.8"/>
<text x="442.00" y="523.30" font-size="8.8" textLength="15.50" lengthAdjust="spacingAndGlyphs" fill="#2a2a2a">IL13</text>
<line x1="477.20" y1="444.80" x2="477.20" y2="477.30" stroke="#000" stroke-width="1.1"/>
<line x1="477.20" y1="484.70" x2="477.20" y2="521.40" stroke="#000" stroke-width="1.1"/>
<text x="481.9" y="464.00" font-size="9.2" fill="#2a2a2a">T</text>
<text x="486.0" y="467.00" font-size="4.8" fill="#2a2a2a">H</text>
<text x="490.3" y="464.00" font-size="9.2" fill="#2a2a2a" textLength="11.2" lengthAdjust="spacingAndGlyphs">1/T</text>
<text x="501.6" y="467.00" font-size="4.8" fill="#2a2a2a">C</text>
<text x="505.4" y="464.00" font-size="9.2" fill="#2a2a2a">1</text>
<text x="481.9" y="505.60" font-size="9.2" fill="#2a2a2a">T</text>
<text x="486.0" y="508.60" font-size="4.8" fill="#2a2a2a">H</text>
<text x="490.3" y="505.60" font-size="9.2" fill="#2a2a2a" textLength="11.2" lengthAdjust="spacingAndGlyphs">2/T</text>
<text x="501.6" y="508.60" font-size="4.8" fill="#2a2a2a">C</text>
<text x="505.4" y="505.60" font-size="9.2" fill="#2a2a2a">2</text>
<line x1="64.05" y1="620.00" x2="64.05" y2="699.80" stroke="#000" stroke-width="1.8"/>
<line x1="63.15" y1="698.90" x2="163.50" y2="698.90" stroke="#000" stroke-width="1.8"/>
<line x1="59.30" y1="698.90" x2="64.00" y2="698.90" stroke="#000" stroke-width="1.4"/>
<text x="54.90" y="702.40" font-size="9.9" text-anchor="end" fill="#000">0</text>
<line x1="59.30" y1="683.96" x2="64.00" y2="683.96" stroke="#000" stroke-width="1.4"/>
<text x="54.90" y="687.46" font-size="9.9" text-anchor="end" fill="#000">20</text>
<line x1="59.30" y1="669.02" x2="64.00" y2="669.02" stroke="#000" stroke-width="1.4"/>
<text x="54.90" y="672.52" font-size="9.9" text-anchor="end" fill="#000">40</text>
<line x1="59.30" y1="654.08" x2="64.00" y2="654.08" stroke="#000" stroke-width="1.4"/>
<text x="54.90" y="657.58" font-size="9.9" text-anchor="end" fill="#000">60</text>
<line x1="59.30" y1="639.14" x2="64.00" y2="639.14" stroke="#000" stroke-width="1.4"/>
<text x="54.90" y="642.64" font-size="9.9" text-anchor="end" fill="#000">80</text>
<line x1="59.30" y1="624.20" x2="64.00" y2="624.20" stroke="#000" stroke-width="1.4"/>
<text x="54.90" y="627.70" font-size="9.9" text-anchor="end" fill="#000">100</text>
<rect x="68.90" y="688.20" width="8.80" height="10.70" fill="#ea950e"/>
<line x1="73.30" y1="688.20" x2="73.30" y2="673.40" stroke="#000" stroke-width="1.4"/>
<line x1="71.80" y1="673.40" x2="74.80" y2="673.40" stroke="#000" stroke-width="1.4"/>
<path d="M70.38,672.56 L76.22,672.56 L73.30,677.97 Z" fill="#000"/>
<circle cx="73.30" cy="674.46" r="0.58" fill="#777"/>
<circle cx="70.60" cy="694.60" r="1.60" fill="none" stroke="#000" stroke-width="1.4"/>
<path d="M70.95,693.00 A1.60,1.60 0 0 0 70.95,696.20 Z" fill="#000"/>
<circle cx="76.00" cy="694.60" r="1.60" fill="none" stroke="#000" stroke-width="1.4"/>
<path d="M74.40,694.95 A1.60,1.60 0 0 1 77.60,694.95 Z" fill="#000"/>
<line x1="73.30" y1="698.90" x2="73.30" y2="703.30" stroke="#000" stroke-width="1.3"/>
<rect x="82.87" y="680.80" width="8.80" height="18.10" fill="#2f6b4f"/>
<line x1="87.27" y1="680.80" x2="87.27" y2="658.60" stroke="#000" stroke-width="1.4"/>
<line x1="85.77" y1="658.60" x2="88.77" y2="658.60" stroke="#000" stroke-width="1.4"/>
<path d="M84.35,653.56 L90.19,653.56 L87.27,658.97 Z" fill="#000"/>
<circle cx="87.27" cy="655.46" r="0.58" fill="#777"/>
<circle cx="87.27" cy="690.10" r="1.60" fill="none" stroke="#000" stroke-width="1.4"/>
<path d="M87.62,688.50 A1.60,1.60 0 0 0 87.62,691.70 Z" fill="#000"/>
<circle cx="87.27" cy="696.00" r="1.60" fill="none" stroke="#000" stroke-width="1.4"/>
<path d="M85.67,696.35 A1.60,1.60 0 0 1 88.87,696.35 Z" fill="#000"/>
<line x1="87.27" y1="698.90" x2="87.27" y2="703.30" stroke="#000" stroke-width="1.3"/>
<rect x="96.84" y="686.10" width="8.80" height="12.80" fill="#6cb142"/>
<line x1="101.24" y1="686.10" x2="101.24" y2="672.80" stroke="#000" stroke-width="1.4"/>
<line x1="99.74" y1="672.80" x2="102.74" y2="672.80" stroke="#000" stroke-width="1.4"/>
<path d="M98.32,671.06 L104.16,671.06 L101.24,676.47 Z" fill="#000"/>
<circle cx="101.24" cy="672.96" r="0.58" fill="#777"/>
<circle cx="101.24" cy="685.10" r="1.60" fill="none" stroke="#000" stroke-width="1.4"/>
<path d="M99.64,685.45 A1.60,1.60 0 0 1 102.84,685.45 Z" fill="#000"/>
<circle cx="101.24" cy="699.70" r="1.60" fill="none" stroke="#000" stroke-width="1.4"/>
<path d="M101.59,698.10 A1.60,1.60 0 0 0 101.59,701.30 Z" fill="#000"/>
<line x1="101.24" y1="698.90" x2="101.24" y2="703.30" stroke="#000" stroke-width="1.3"/>
<rect x="110.81" y="695.40" width="8.80" height="3.50" fill="#2a549c"/>
<circle cx="112.91" cy="696.20" r="1.60" fill="none" stroke="#000" stroke-width="1.4"/>
<path d="M111.31,696.55 A1.60,1.60 0 0 1 114.51,696.55 Z" fill="#000"/>
<circle cx="117.51" cy="696.20" r="1.60" fill="none" stroke="#000" stroke-width="1.4"/>
<path d="M117.86,694.60 A1.60,1.60 0 0 0 117.86,697.80 Z" fill="#000"/>
<path d="M112.29,694.66 L118.13,694.66 L115.21,700.07 Z" fill="#000"/>
<circle cx="115.21" cy="696.56" r="0.58" fill="#777"/>
<line x1="115.21" y1="698.90" x2="115.21" y2="703.30" stroke="#000" stroke-width="1.3"/>
<rect x="124.78" y="676.60" width="8.80" height="22.30" fill="#ad6a1c"/>
<line x1="129.18" y1="676.60" x2="129.18" y2="660.50" stroke="#000" stroke-width="1.4"/>
<line x1="127.68" y1="660.50" x2="130.68" y2="660.50" stroke="#000" stroke-width="1.4"/>
<circle cx="129.18" cy="660.50" r="1.60" fill="none" stroke="#000" stroke-width="1.4"/>
<path d="M127.58,660.85 A1.60,1.60 0 0 1 130.78,660.85 Z" fill="#000"/>
<circle cx="129.18" cy="680.80" r="1.60" fill="none" stroke="#000" stroke-width="1.4"/>
<path d="M129.53,679.20 A1.60,1.60 0 0 0 129.53,682.40 Z" fill="#000"/>
<path d="M126.26,683.76 L132.10,683.76 L129.18,689.17 Z" fill="#000"/>
<circle cx="129.18" cy="685.66" r="0.58" fill="#777"/>
<line x1="129.18" y1="698.90" x2="129.18" y2="703.30" stroke="#000" stroke-width="1.3"/>
<rect x="138.75" y="689.10" width="8.80" height="9.80" fill="#8f88c5"/>
<line x1="143.15" y1="689.10" x2="143.15" y2="677.70" stroke="#000" stroke-width="1.4"/>
<line x1="141.65" y1="677.70" x2="144.65" y2="677.70" stroke="#000" stroke-width="1.4"/>
<path d="M140.23,676.16 L146.07,676.16 L143.15,681.57 Z" fill="#000"/>
<circle cx="143.15" cy="678.06" r="0.58" fill="#777"/>
<circle cx="143.15" cy="690.80" r="1.60" fill="none" stroke="#000" stroke-width="1.4"/>
<path d="M141.55,691.15 A1.60,1.60 0 0 1 144.75,691.15 Z" fill="#000"/>
<circle cx="143.15" cy="695.40" r="1.60" fill="none" stroke="#000" stroke-width="1.4"/>
<path d="M143.50,693.80 A1.60,1.60 0 0 0 143.50,697.00 Z" fill="#000"/>
<line x1="143.15" y1="698.90" x2="143.15" y2="703.30" stroke="#000" stroke-width="1.3"/>
<rect x="152.77" y="639.50" width="8.70" height="59.40" fill="#a3002c"/>
<circle cx="157.22" cy="635.00" r="1.60" fill="none" stroke="#000" stroke-width="1.4"/>
<path d="M155.62,635.35 A1.60,1.60 0 0 1 158.82,635.35 Z" fill="#000"/>
<circle cx="160.22" cy="639.50" r="1.60" fill="none" stroke="#000" stroke-width="1.4"/>
<path d="M160.57,637.90 A1.60,1.60 0 0 0 160.57,641.10 Z" fill="#000"/>
<path d="M150.80,638.46 L156.64,638.46 L153.72,643.87 Z" fill="#000"/>
<circle cx="153.72" cy="640.36" r="0.58" fill="#777"/>
<line x1="157.12" y1="698.90" x2="157.12" y2="703.30" stroke="#000" stroke-width="1.3"/>
<line x1="73.30" y1="626.50" x2="157.30" y2="626.50" stroke="#000" stroke-width="1.3"/>
<line x1="73.30" y1="624.90" x2="73.30" y2="628.10" stroke="#000" stroke-width="1.0"/>
<line x1="157.30" y1="624.90" x2="157.30" y2="628.10" stroke="#000" stroke-width="1.0"/>
<path d="M111.70,621.30 L112.14,622.39 L113.32,622.47 L112.41,623.23 L112.70,624.38 L111.70,623.75 L110.70,624.38 L110.99,623.23 L110.08,622.47 L111.26,622.39 Z M115.30,621.30 L115.74,622.39 L116.92,622.47 L116.01,623.23 L116.30,624.38 L115.30,623.75 L114.30,624.38 L114.59,623.23 L113.68,622.47 L114.86,622.39 Z M118.90,621.30 L119.34,622.39 L120.52,622.47 L119.61,623.23 L119.90,624.38 L118.90,623.75 L117.90,624.38 L118.19,623.23 L117.28,622.47 L118.46,622.39 Z" fill="#1a1a1a"/>
<line x1="87.30" y1="619.10" x2="157.30" y2="619.10" stroke="#000" stroke-width="1.3"/>
<line x1="87.30" y1="617.50" x2="87.30" y2="620.70" stroke="#000" stroke-width="1.0"/>
<line x1="157.30" y1="617.50" x2="157.30" y2="620.70" stroke="#000" stroke-width="1.0"/>
<path d="M120.50,613.20 L120.94,614.29 L122.12,614.37 L121.21,615.13 L121.50,616.28 L120.50,615.65 L119.50,616.28 L119.79,615.13 L118.88,614.37 L120.06,614.29 Z M124.10,613.20 L124.54,614.29 L125.72,614.37 L124.81,615.13 L125.10,616.28 L124.10,615.65 L123.10,616.28 L123.39,615.13 L122.48,614.37 L123.66,614.29 Z" fill="#1a1a1a"/>
<line x1="101.30" y1="611.70" x2="157.30" y2="611.70" stroke="#000" stroke-width="1.3"/>
<line x1="101.30" y1="610.10" x2="101.30" y2="613.30" stroke="#000" stroke-width="1.0"/>
<line x1="157.30" y1="610.10" x2="157.30" y2="613.30" stroke="#000" stroke-width="1.0"/>
<path d="M127.50,605.80 L127.94,606.89 L129.12,606.97 L128.21,607.73 L128.50,608.88 L127.50,608.25 L126.50,608.88 L126.79,607.73 L125.88,606.97 L127.06,606.89 Z M131.10,605.80 L131.54,606.89 L132.72,606.97 L131.81,607.73 L132.10,608.88 L131.10,608.25 L130.10,608.88 L130.39,607.73 L129.48,606.97 L130.66,606.89 Z" fill="#1a1a1a"/>
<line x1="115.30" y1="603.90" x2="157.30" y2="603.90" stroke="#000" stroke-width="1.3"/>
<line x1="115.30" y1="602.30" x2="115.30" y2="605.50" stroke="#000" stroke-width="1.0"/>
<line x1="157.30" y1="602.30" x2="157.30" y2="605.50" stroke="#000" stroke-width="1.0"/>
<path d="M132.70,598.40 L133.14,599.49 L134.32,599.57 L133.41,600.33 L133.70,601.48 L132.70,600.85 L131.70,601.48 L131.99,600.33 L131.08,599.57 L132.26,599.49 Z M136.30,598.40 L136.74,599.49 L137.92,599.57 L137.01,600.33 L137.30,601.48 L136.30,600.85 L135.30,601.48 L135.59,600.33 L134.68,599.57 L135.86,599.49 Z M139.90,598.40 L140.34,599.49 L141.52,599.57 L140.61,600.33 L140.90,601.48 L139.90,600.85 L138.90,601.48 L139.19,600.33 L138.28,599.57 L139.46,599.49 Z" fill="#1a1a1a"/>
<line x1="129.30" y1="595.90" x2="157.30" y2="595.90" stroke="#000" stroke-width="1.3"/>
<line x1="129.30" y1="594.30" x2="129.30" y2="597.50" stroke="#000" stroke-width="1.0"/>
<line x1="157.30" y1="594.30" x2="157.30" y2="597.50" stroke="#000" stroke-width="1.0"/>
<path d="M141.50,590.30 L141.94,591.39 L143.12,591.47 L142.21,592.23 L142.50,593.38 L141.50,592.75 L140.50,593.38 L140.79,592.23 L139.88,591.47 L141.06,591.39 Z M145.10,590.30 L145.54,591.39 L146.72,591.47 L145.81,592.23 L146.10,593.38 L145.10,592.75 L144.10,593.38 L144.39,592.23 L143.48,591.47 L144.66,591.39 Z" fill="#1a1a1a"/>
<line x1="143.20" y1="588.50" x2="157.30" y2="588.50" stroke="#000" stroke-width="1.3"/>
<line x1="143.20" y1="586.90" x2="143.20" y2="590.10" stroke="#000" stroke-width="1.0"/>
<line x1="157.30" y1="586.90" x2="157.30" y2="590.10" stroke="#000" stroke-width="1.0"/>
<path d="M146.65,582.50 L147.09,583.59 L148.27,583.67 L147.36,584.43 L147.65,585.58 L146.65,584.95 L145.65,585.58 L145.94,584.43 L145.03,583.67 L146.21,583.59 Z M150.25,582.50 L150.69,583.59 L151.87,583.67 L150.96,584.43 L151.25,585.58 L150.25,584.95 L149.25,585.58 L149.54,584.43 L148.63,583.67 L149.81,583.59 Z M153.85,582.50 L154.29,583.59 L155.47,583.67 L154.56,584.43 L154.85,585.58 L153.85,584.95 L152.85,585.58 L153.14,584.43 L152.23,583.67 L153.41,583.59 Z" fill="#1a1a1a"/>
<text x="0" y="0" font-size="13" text-anchor="middle" textLength="92" lengthAdjust="spacingAndGlyphs" transform="translate(30.9 659.5) rotate(-90)">% LAG3<tspan font-size="8" dy="-4">-</tspan><tspan dy="4">/TIM3</tspan><tspan font-size="8" dy="-4">-</tspan><tspan dy="4">/PD-1</tspan><tspan font-size="8" dy="-4">-</tspan></text>
<text x="77.70" y="712.50" font-size="9.2" text-anchor="end" transform="rotate(-45 77.70 712.50)">IM-28z</text>
<text x="91.67" y="712.50" font-size="9.2" text-anchor="end" transform="rotate(-45 91.67 712.50)">IM-BBz</text>
<text x="105.64" y="712.50" font-size="9.2" text-anchor="end" transform="rotate(-45 105.64 712.50)">IM-27z</text>
<text x="119.61" y="712.50" font-size="9.2" text-anchor="end" transform="rotate(-45 119.61 712.50)">LF-28z</text>
<text x="133.58" y="712.50" font-size="9.2" text-anchor="end" transform="rotate(-45 133.58 712.50)">LF-BBz</text>
<text x="147.55" y="712.50" font-size="9.2" text-anchor="end" transform="rotate(-45 147.55 712.50)">LF-27z</text>
<text x="161.52" y="712.50" font-size="9.2" text-anchor="end" transform="rotate(-45 161.52 712.50)">CD27z</text>
<line x1="277.30" y1="619.20" x2="277.30" y2="699.80" stroke="#000" stroke-width="1.8"/>
<line x1="276.40" y1="698.90" x2="381.00" y2="698.90" stroke="#000" stroke-width="1.8"/>
<line x1="272.60" y1="698.90" x2="277.30" y2="698.90" stroke="#000" stroke-width="1.4"/>
<text x="268.50" y="702.40" font-size="9.9" text-anchor="end" fill="#000">0</text>
<line x1="272.60" y1="686.27" x2="277.30" y2="686.27" stroke="#000" stroke-width="1.4"/>
<text x="268.50" y="689.77" font-size="9.9" text-anchor="end" fill="#000">10</text>
<line x1="272.60" y1="673.63" x2="277.30" y2="673.63" stroke="#000" stroke-width="1.4"/>
<text x="268.50" y="677.13" font-size="9.9" text-anchor="end" fill="#000">20</text>
<line x1="272.60" y1="661.00" x2="277.30" y2="661.00" stroke="#000" stroke-width="1.4"/>
<text x="268.50" y="664.50" font-size="9.9" text-anchor="end" fill="#000">30</text>
<line x1="272.60" y1="648.37" x2="277.30" y2="648.37" stroke="#000" stroke-width="1.4"/>
<text x="268.50" y="651.87" font-size="9.9" text-anchor="end" fill="#000">40</text>
<line x1="272.60" y1="635.73" x2="277.30" y2="635.73" stroke="#000" stroke-width="1.4"/>
<text x="268.50" y="639.23" font-size="9.9" text-anchor="end" fill="#000">50</text>
<line x1="272.60" y1="623.10" x2="277.30" y2="623.10" stroke="#000" stroke-width="1.4"/>
<text x="268.50" y="626.60" font-size="9.9" text-anchor="end" fill="#000">60</text>
<rect x="282.65" y="682.90" width="8.50" height="16.00" fill="#ea950e"/>
<line x1="286.90" y1="682.90" x2="286.90" y2="669.80" stroke="#000" stroke-width="1.4"/>
<line x1="285.40" y1="669.80" x2="288.40" y2="669.80" stroke="#000" stroke-width="1.4"/>
<path d="M283.98,667.46 L289.82,667.46 L286.90,672.87 Z" fill="#000"/>
<circle cx="286.90" cy="669.36" r="0.58" fill="#777"/>
<circle cx="284.20" cy="690.60" r="1.60" fill="none" stroke="#000" stroke-width="1.4"/>
<path d="M282.60,690.95 A1.60,1.60 0 0 1 285.80,690.95 Z" fill="#000"/>
<circle cx="289.40" cy="688.10" r="1.60" fill="none" stroke="#000" stroke-width="1.4"/>
<path d="M289.75,686.50 A1.60,1.60 0 0 0 289.75,689.70 Z" fill="#000"/>
<line x1="286.90" y1="698.90" x2="286.90" y2="703.30" stroke="#000" stroke-width="1.3"/>
<rect x="296.73" y="675.60" width="8.50" height="23.30" fill="#2f6b4f"/>
<line x1="300.98" y1="675.60" x2="300.98" y2="652.90" stroke="#000" stroke-width="1.4"/>
<line x1="299.48" y1="652.90" x2="302.48" y2="652.90" stroke="#000" stroke-width="1.4"/>
<circle cx="300.98" cy="652.90" r="1.60" fill="none" stroke="#000" stroke-width="1.4"/>
<path d="M299.38,653.25 A1.60,1.60 0 0 1 302.58,653.25 Z" fill="#000"/>
<circle cx="300.98" cy="683.30" r="1.60" fill="none" stroke="#000" stroke-width="1.4"/>
<path d="M301.33,681.70 A1.60,1.60 0 0 0 301.33,684.90 Z" fill="#000"/>
<path d="M298.06,686.66 L303.90,686.66 L300.98,692.07 Z" fill="#000"/>
<circle cx="300.98" cy="688.56" r="0.58" fill="#777"/>
<line x1="300.98" y1="698.90" x2="300.98" y2="703.30" stroke="#000" stroke-width="1.3"/>
<rect x="310.81" y="680.40" width="8.50" height="18.50" fill="#6cb142"/>
<line x1="315.06" y1="680.40" x2="315.06" y2="656.30" stroke="#000" stroke-width="1.4"/>
<line x1="313.56" y1="656.30" x2="316.56" y2="656.30" stroke="#000" stroke-width="1.4"/>
<path d="M312.14,653.96 L317.98,653.96 L315.06,659.37 Z" fill="#000"/>
<circle cx="315.06" cy="655.86" r="0.58" fill="#777"/>
<circle cx="315.06" cy="688.70" r="1.60" fill="none" stroke="#000" stroke-width="1.4"/>
<path d="M315.41,687.10 A1.60,1.60 0 0 0 315.41,690.30 Z" fill="#000"/>
<circle cx="315.06" cy="694.40" r="1.60" fill="none" stroke="#000" stroke-width="1.4"/>
<path d="M313.46,694.75 A1.60,1.60 0 0 1 316.66,694.75 Z" fill="#000"/>
<line x1="315.06" y1="698.90" x2="315.06" y2="703.30" stroke="#000" stroke-width="1.3"/>
<rect x="324.89" y="681.20" width="8.50" height="17.70" fill="#2a549c"/>
<line x1="329.14" y1="681.20" x2="329.14" y2="658.10" stroke="#000" stroke-width="1.4"/>
<line x1="327.64" y1="658.10" x2="330.64" y2="658.10" stroke="#000" stroke-width="1.4"/>
<circle cx="329.14" cy="658.10" r="1.60" fill="none" stroke="#000" stroke-width="1.4"/>
<path d="M327.54,658.45 A1.60,1.60 0 0 1 330.74,658.45 Z" fill="#000"/>
<circle cx="329.14" cy="685.80" r="1.60" fill="none" stroke="#000" stroke-width="1.4"/>
<path d="M329.49,684.20 A1.60,1.60 0 0 0 329.49,687.40 Z" fill="#000"/>
<path d="M326.22,695.66 L332.06,695.66 L329.14,701.07 Z" fill="#000"/>
<circle cx="329.14" cy="697.56" r="0.58" fill="#777"/>
<line x1="329.14" y1="698.90" x2="329.14" y2="703.30" stroke="#000" stroke-width="1.3"/>
<rect x="338.97" y="668.10" width="8.50" height="30.80" fill="#ad6a1c"/>
<line x1="343.22" y1="668.10" x2="343.22" y2="642.40" stroke="#000" stroke-width="1.4"/>
<line x1="341.72" y1="642.40" x2="344.72" y2="642.40" stroke="#000" stroke-width="1.4"/>
<path d="M340.30,640.06 L346.14,640.06 L343.22,645.47 Z" fill="#000"/>
<circle cx="343.22" cy="641.96" r="0.58" fill="#777"/>
<circle cx="343.22" cy="669.20" r="1.60" fill="none" stroke="#000" stroke-width="1.4"/>
<path d="M341.62,669.55 A1.60,1.60 0 0 1 344.82,669.55 Z" fill="#000"/>
<circle cx="343.22" cy="692.20" r="1.60" fill="none" stroke="#000" stroke-width="1.4"/>
<path d="M343.57,690.60 A1.60,1.60 0 0 0 343.57,693.80 Z" fill="#000"/>
<line x1="343.22" y1="698.90" x2="343.22" y2="703.30" stroke="#000" stroke-width="1.3"/>
<rect x="353.05" y="668.10" width="8.50" height="30.80" fill="#8f88c5"/>
<line x1="357.30" y1="668.10" x2="357.30" y2="648.80" stroke="#000" stroke-width="1.4"/>
<line x1="355.80" y1="648.80" x2="358.80" y2="648.80" stroke="#000" stroke-width="1.4"/>
<circle cx="357.30" cy="648.80" r="1.60" fill="none" stroke="#000" stroke-width="1.4"/>
<path d="M355.70,649.15 A1.60,1.60 0 0 1 358.90,649.15 Z" fill="#000"/>
<path d="M354.38,670.36 L360.22,670.36 L357.30,675.77 Z" fill="#000"/>
<circle cx="357.30" cy="672.26" r="0.58" fill="#777"/>
<circle cx="357.30" cy="680.80" r="1.60" fill="none" stroke="#000" stroke-width="1.4"/>
<path d="M357.65,679.20 A1.60,1.60 0 0 0 357.65,682.40 Z" fill="#000"/>
<line x1="357.30" y1="698.90" x2="357.30" y2="703.30" stroke="#000" stroke-width="1.3"/>
<rect x="367.13" y="697.20" width="8.50" height="1.70" fill="#a3002c"/>
<circle cx="369.08" cy="698.20" r="1.60" fill="none" stroke="#000" stroke-width="1.4"/>
<path d="M369.43,696.60 A1.60,1.60 0 0 0 369.43,699.80 Z" fill="#000"/>
<path d="M369.86,693.66 L375.70,693.66 L372.78,699.07 Z" fill="#000"/>
<circle cx="372.78" cy="695.56" r="0.58" fill="#777"/>
<circle cx="372.38" cy="697.50" r="1.60" fill="none" stroke="#000" stroke-width="1.4"/>
<path d="M370.78,697.85 A1.60,1.60 0 0 1 373.98,697.85 Z" fill="#000"/>
<line x1="371.38" y1="698.90" x2="371.38" y2="703.30" stroke="#000" stroke-width="1.3"/>
<line x1="284.60" y1="631.40" x2="372.30" y2="631.40" stroke="#000" stroke-width="1.3"/>
<text x="328.50" y="627.20" font-size="8" text-anchor="middle" fill="#222">ns</text>
<text x="0" y="0" font-size="13" text-anchor="middle" textLength="109" lengthAdjust="spacingAndGlyphs" transform="translate(250.4 660.5) rotate(-90)">% LAG3+/TIM3+/PD-1+</text>
<text x="291.30" y="712.50" font-size="9.2" text-anchor="end" transform="rotate(-45 291.30 712.50)">IM-28z</text>
<text x="305.38" y="712.50" font-size="9.2" text-anchor="end" transform="rotate(-45 305.38 712.50)">IM-BBz</text>
<text x="319.46" y="712.50" font-size="9.2" text-anchor="end" transform="rotate(-45 319.46 712.50)">IM-27z</text>
<text x="333.54" y="712.50" font-size="9.2" text-anchor="end" transform="rotate(-45 333.54 712.50)">LF-28z</text>
<text x="347.62" y="712.50" font-size="9.2" text-anchor="end" transform="rotate(-45 347.62 712.50)">LF-BBz</text>
<text x="361.70" y="712.50" font-size="9.2" text-anchor="end" transform="rotate(-45 361.70 712.50)">LF-27z</text>
<text x="375.78" y="712.50" font-size="9.2" text-anchor="end" transform="rotate(-45 375.78 712.50)">CD27z</text>
<circle cx="397.50" cy="647.50" r="2.55" fill="#fff" stroke="#000" stroke-width="0.8"/>
<path d="M394.95,647.60 A2.55,2.55 0 0 1 400.05,647.60 Z" fill="#000"/>
<text x="404.80" y="650.70" font-size="9.4" textLength="29.20" lengthAdjust="spacingAndGlyphs" fill="#2a2a2a">Donor 3</text>
<circle cx="397.50" cy="660.40" r="2.55" fill="#fff" stroke="#000" stroke-width="0.8"/>
<path d="M397.60,657.85 A2.55,2.55 0 0 0 397.60,662.95 Z" fill="#000"/>
<text x="404.80" y="663.60" font-size="9.4" textLength="29.20" lengthAdjust="spacingAndGlyphs" fill="#2a2a2a">Donor 4</text>
<path d="M393.75,670.50 L401.25,670.50 L397.50,677.43 Z" fill="#000"/>
<circle cx="397.50" cy="672.94" r="0.75" fill="#777"/>
<text x="404.80" y="676.70" font-size="9.4" textLength="29.20" lengthAdjust="spacingAndGlyphs" fill="#2a2a2a">Donor 6</text>
</svg></body></html>
